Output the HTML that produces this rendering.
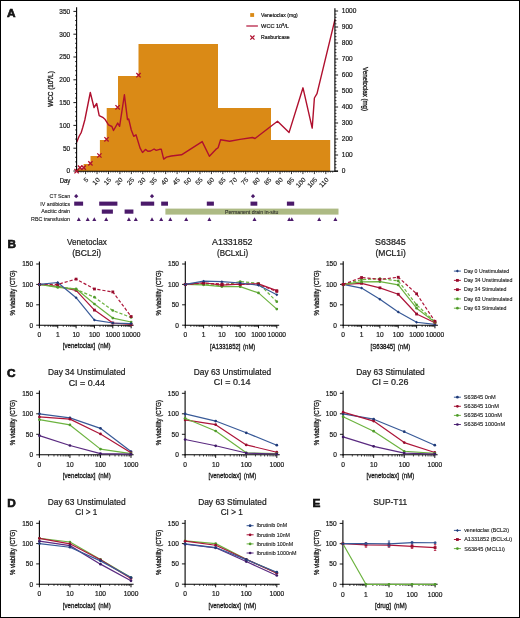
<!DOCTYPE html>
<html><head><meta charset="utf-8"><style>
html,body{margin:0;padding:0;background:#fff;}
body{width:520px;height:618px;overflow:hidden;}
svg{display:block;will-change:transform;}
text{font-family:"Liberation Sans",sans-serif;fill:#1a1a1a;stroke:#1a1a1a;stroke-width:0.22px;}
text[font-weight=bold]{stroke-width:0.6px;stroke:#000;}
.rl{stroke-width:0.16px;}
.ti{stroke-width:0.32px;}
.lg{stroke-width:0.12px;}
.pd{stroke-width:0.1px;fill:#2e2e2a;stroke:#2e2e2a;}
</style></head><body>
<svg width="520" height="618" viewBox="0 0 520 618">
<rect x="0" y="0" width="520" height="618" fill="#fff"/>
<text transform="translate(7 17.4)" font-size="11.8" font-weight="bold" fill="#000">A</text>
<path d="M76.6,171.3 L76.6,168.8 L83.6,168.8 L83.6,164 L90.5,164 L90.5,156 L99.9,156 L99.9,140 L106.7,140 L106.7,108 L118,108 L118,76 L138.5,76 L138.5,44 L218,44 L218,108 L271,108 L271,140 L330.2,140 L330.2,171.3 Z" fill="#da8a16" stroke="none" stroke-width="1"/>
<polyline points="76.7,142.3 79,136.5 81.3,132.3 82.8,127.3 84.8,120 90.3,92.5 94,107.5 96.7,103.5 99.2,115.6 102.7,117.3 105.2,119.6 108.5,124.8 111.9,126.5 113.5,130.5 117.7,123.1 119.6,126.3 124.4,94.8 127.5,119.6 128.7,119 131.3,130 133.7,136.3 136,134.8 140,147.9 142.5,152.5 145.5,149.4 147.8,151.3 150.6,151 154.1,149 156.2,150.4 159.6,149.3 161.3,149.3 163.7,159.1 166.5,157.1 171.2,156 181.5,154.8 202.2,141.6 209.4,156.3 215.8,149.4 218.1,147.7 220.6,139.8 229.6,141.3 240,139.4 252.5,137.5 255,138.5 277.5,121.25 289.1,132.4 303,87.8 312.2,128.1 314.4,98 317,93.6 335,19.4" fill="none" stroke="#b0102e" stroke-width="1.4" stroke-linejoin="round"/>
<line x1="76.6" y1="7.2" x2="76.6" y2="171.8" stroke="#000" stroke-width="1.1"/>
<line x1="76.1" y1="171.3" x2="338" y2="171.3" stroke="#000" stroke-width="1.1"/>
<line x1="334.9" y1="8.2" x2="334.9" y2="171.8" stroke="#000" stroke-width="1.1"/>
<line x1="73.4" y1="171" x2="76.6" y2="171" stroke="#000" stroke-width="0.9"/>
<text transform="translate(70.2 173.45) scale(0.950 1)" font-size="6.9" text-anchor="end">0</text>
<line x1="75" y1="166.44" x2="76.6" y2="166.44" stroke="#000" stroke-width="0.7"/>
<line x1="75" y1="161.88" x2="76.6" y2="161.88" stroke="#000" stroke-width="0.7"/>
<line x1="75" y1="157.32" x2="76.6" y2="157.32" stroke="#000" stroke-width="0.7"/>
<line x1="75" y1="152.76" x2="76.6" y2="152.76" stroke="#000" stroke-width="0.7"/>
<line x1="73.4" y1="148.2" x2="76.6" y2="148.2" stroke="#000" stroke-width="0.9"/>
<text transform="translate(70.2 150.65) scale(0.950 1)" font-size="6.9" text-anchor="end">50</text>
<line x1="75" y1="143.64" x2="76.6" y2="143.64" stroke="#000" stroke-width="0.7"/>
<line x1="75" y1="139.08" x2="76.6" y2="139.08" stroke="#000" stroke-width="0.7"/>
<line x1="75" y1="134.52" x2="76.6" y2="134.52" stroke="#000" stroke-width="0.7"/>
<line x1="75" y1="129.96" x2="76.6" y2="129.96" stroke="#000" stroke-width="0.7"/>
<line x1="73.4" y1="125.4" x2="76.6" y2="125.4" stroke="#000" stroke-width="0.9"/>
<text transform="translate(70.2 127.85) scale(0.950 1)" font-size="6.9" text-anchor="end">100</text>
<line x1="75" y1="120.84" x2="76.6" y2="120.84" stroke="#000" stroke-width="0.7"/>
<line x1="75" y1="116.28" x2="76.6" y2="116.28" stroke="#000" stroke-width="0.7"/>
<line x1="75" y1="111.72" x2="76.6" y2="111.72" stroke="#000" stroke-width="0.7"/>
<line x1="75" y1="107.16" x2="76.6" y2="107.16" stroke="#000" stroke-width="0.7"/>
<line x1="73.4" y1="102.6" x2="76.6" y2="102.6" stroke="#000" stroke-width="0.9"/>
<text transform="translate(70.2 105.05) scale(0.950 1)" font-size="6.9" text-anchor="end">150</text>
<line x1="75" y1="98.04" x2="76.6" y2="98.04" stroke="#000" stroke-width="0.7"/>
<line x1="75" y1="93.48" x2="76.6" y2="93.48" stroke="#000" stroke-width="0.7"/>
<line x1="75" y1="88.92" x2="76.6" y2="88.92" stroke="#000" stroke-width="0.7"/>
<line x1="75" y1="84.36" x2="76.6" y2="84.36" stroke="#000" stroke-width="0.7"/>
<line x1="73.4" y1="79.8" x2="76.6" y2="79.8" stroke="#000" stroke-width="0.9"/>
<text transform="translate(70.2 82.25) scale(0.950 1)" font-size="6.9" text-anchor="end">200</text>
<line x1="75" y1="75.24" x2="76.6" y2="75.24" stroke="#000" stroke-width="0.7"/>
<line x1="75" y1="70.68" x2="76.6" y2="70.68" stroke="#000" stroke-width="0.7"/>
<line x1="75" y1="66.12" x2="76.6" y2="66.12" stroke="#000" stroke-width="0.7"/>
<line x1="75" y1="61.56" x2="76.6" y2="61.56" stroke="#000" stroke-width="0.7"/>
<line x1="73.4" y1="57" x2="76.6" y2="57" stroke="#000" stroke-width="0.9"/>
<text transform="translate(70.2 59.45) scale(0.950 1)" font-size="6.9" text-anchor="end">250</text>
<line x1="75" y1="52.44" x2="76.6" y2="52.44" stroke="#000" stroke-width="0.7"/>
<line x1="75" y1="47.88" x2="76.6" y2="47.88" stroke="#000" stroke-width="0.7"/>
<line x1="75" y1="43.32" x2="76.6" y2="43.32" stroke="#000" stroke-width="0.7"/>
<line x1="75" y1="38.76" x2="76.6" y2="38.76" stroke="#000" stroke-width="0.7"/>
<line x1="73.4" y1="34.2" x2="76.6" y2="34.2" stroke="#000" stroke-width="0.9"/>
<text transform="translate(70.2 36.65) scale(0.950 1)" font-size="6.9" text-anchor="end">300</text>
<line x1="75" y1="29.64" x2="76.6" y2="29.64" stroke="#000" stroke-width="0.7"/>
<line x1="75" y1="25.08" x2="76.6" y2="25.08" stroke="#000" stroke-width="0.7"/>
<line x1="75" y1="20.52" x2="76.6" y2="20.52" stroke="#000" stroke-width="0.7"/>
<line x1="75" y1="15.96" x2="76.6" y2="15.96" stroke="#000" stroke-width="0.7"/>
<line x1="73.4" y1="11.4" x2="76.6" y2="11.4" stroke="#000" stroke-width="0.9"/>
<text transform="translate(70.2 13.85) scale(0.950 1)" font-size="6.9" text-anchor="end">350</text>
<line x1="334.9" y1="171" x2="338.1" y2="171" stroke="#000" stroke-width="0.9"/>
<text transform="translate(341.8 173.45) scale(0.950 1)" font-size="6.9">0</text>
<line x1="334.9" y1="167.8" x2="336.5" y2="167.8" stroke="#000" stroke-width="0.7"/>
<line x1="334.9" y1="164.6" x2="336.5" y2="164.6" stroke="#000" stroke-width="0.7"/>
<line x1="334.9" y1="161.4" x2="336.5" y2="161.4" stroke="#000" stroke-width="0.7"/>
<line x1="334.9" y1="158.2" x2="336.5" y2="158.2" stroke="#000" stroke-width="0.7"/>
<line x1="334.9" y1="155" x2="338.1" y2="155" stroke="#000" stroke-width="0.9"/>
<text transform="translate(341.8 157.45) scale(0.950 1)" font-size="6.9">100</text>
<line x1="334.9" y1="151.8" x2="336.5" y2="151.8" stroke="#000" stroke-width="0.7"/>
<line x1="334.9" y1="148.6" x2="336.5" y2="148.6" stroke="#000" stroke-width="0.7"/>
<line x1="334.9" y1="145.4" x2="336.5" y2="145.4" stroke="#000" stroke-width="0.7"/>
<line x1="334.9" y1="142.2" x2="336.5" y2="142.2" stroke="#000" stroke-width="0.7"/>
<line x1="334.9" y1="139" x2="338.1" y2="139" stroke="#000" stroke-width="0.9"/>
<text transform="translate(341.8 141.45) scale(0.950 1)" font-size="6.9">200</text>
<line x1="334.9" y1="135.8" x2="336.5" y2="135.8" stroke="#000" stroke-width="0.7"/>
<line x1="334.9" y1="132.6" x2="336.5" y2="132.6" stroke="#000" stroke-width="0.7"/>
<line x1="334.9" y1="129.4" x2="336.5" y2="129.4" stroke="#000" stroke-width="0.7"/>
<line x1="334.9" y1="126.2" x2="336.5" y2="126.2" stroke="#000" stroke-width="0.7"/>
<line x1="334.9" y1="123" x2="338.1" y2="123" stroke="#000" stroke-width="0.9"/>
<text transform="translate(341.8 125.45) scale(0.950 1)" font-size="6.9">300</text>
<line x1="334.9" y1="119.8" x2="336.5" y2="119.8" stroke="#000" stroke-width="0.7"/>
<line x1="334.9" y1="116.6" x2="336.5" y2="116.6" stroke="#000" stroke-width="0.7"/>
<line x1="334.9" y1="113.4" x2="336.5" y2="113.4" stroke="#000" stroke-width="0.7"/>
<line x1="334.9" y1="110.2" x2="336.5" y2="110.2" stroke="#000" stroke-width="0.7"/>
<line x1="334.9" y1="107" x2="338.1" y2="107" stroke="#000" stroke-width="0.9"/>
<text transform="translate(341.8 109.45) scale(0.950 1)" font-size="6.9">400</text>
<line x1="334.9" y1="103.8" x2="336.5" y2="103.8" stroke="#000" stroke-width="0.7"/>
<line x1="334.9" y1="100.6" x2="336.5" y2="100.6" stroke="#000" stroke-width="0.7"/>
<line x1="334.9" y1="97.4" x2="336.5" y2="97.4" stroke="#000" stroke-width="0.7"/>
<line x1="334.9" y1="94.2" x2="336.5" y2="94.2" stroke="#000" stroke-width="0.7"/>
<line x1="334.9" y1="91" x2="338.1" y2="91" stroke="#000" stroke-width="0.9"/>
<text transform="translate(341.8 93.45) scale(0.950 1)" font-size="6.9">500</text>
<line x1="334.9" y1="87.8" x2="336.5" y2="87.8" stroke="#000" stroke-width="0.7"/>
<line x1="334.9" y1="84.6" x2="336.5" y2="84.6" stroke="#000" stroke-width="0.7"/>
<line x1="334.9" y1="81.4" x2="336.5" y2="81.4" stroke="#000" stroke-width="0.7"/>
<line x1="334.9" y1="78.2" x2="336.5" y2="78.2" stroke="#000" stroke-width="0.7"/>
<line x1="334.9" y1="75" x2="338.1" y2="75" stroke="#000" stroke-width="0.9"/>
<text transform="translate(341.8 77.45) scale(0.950 1)" font-size="6.9">600</text>
<line x1="334.9" y1="71.8" x2="336.5" y2="71.8" stroke="#000" stroke-width="0.7"/>
<line x1="334.9" y1="68.6" x2="336.5" y2="68.6" stroke="#000" stroke-width="0.7"/>
<line x1="334.9" y1="65.4" x2="336.5" y2="65.4" stroke="#000" stroke-width="0.7"/>
<line x1="334.9" y1="62.2" x2="336.5" y2="62.2" stroke="#000" stroke-width="0.7"/>
<line x1="334.9" y1="59" x2="338.1" y2="59" stroke="#000" stroke-width="0.9"/>
<text transform="translate(341.8 61.45) scale(0.950 1)" font-size="6.9">700</text>
<line x1="334.9" y1="55.8" x2="336.5" y2="55.8" stroke="#000" stroke-width="0.7"/>
<line x1="334.9" y1="52.6" x2="336.5" y2="52.6" stroke="#000" stroke-width="0.7"/>
<line x1="334.9" y1="49.4" x2="336.5" y2="49.4" stroke="#000" stroke-width="0.7"/>
<line x1="334.9" y1="46.2" x2="336.5" y2="46.2" stroke="#000" stroke-width="0.7"/>
<line x1="334.9" y1="43" x2="338.1" y2="43" stroke="#000" stroke-width="0.9"/>
<text transform="translate(341.8 45.45) scale(0.950 1)" font-size="6.9">800</text>
<line x1="334.9" y1="39.8" x2="336.5" y2="39.8" stroke="#000" stroke-width="0.7"/>
<line x1="334.9" y1="36.6" x2="336.5" y2="36.6" stroke="#000" stroke-width="0.7"/>
<line x1="334.9" y1="33.4" x2="336.5" y2="33.4" stroke="#000" stroke-width="0.7"/>
<line x1="334.9" y1="30.2" x2="336.5" y2="30.2" stroke="#000" stroke-width="0.7"/>
<line x1="334.9" y1="27" x2="338.1" y2="27" stroke="#000" stroke-width="0.9"/>
<text transform="translate(341.8 29.45) scale(0.950 1)" font-size="6.9">900</text>
<line x1="334.9" y1="23.8" x2="336.5" y2="23.8" stroke="#000" stroke-width="0.7"/>
<line x1="334.9" y1="20.6" x2="336.5" y2="20.6" stroke="#000" stroke-width="0.7"/>
<line x1="334.9" y1="17.4" x2="336.5" y2="17.4" stroke="#000" stroke-width="0.7"/>
<line x1="334.9" y1="14.2" x2="336.5" y2="14.2" stroke="#000" stroke-width="0.7"/>
<line x1="334.9" y1="11" x2="338.1" y2="11" stroke="#000" stroke-width="0.9"/>
<text transform="translate(341.8 13.45) scale(0.950 1)" font-size="6.9">1000</text>
<line x1="78.74" y1="171.3" x2="78.74" y2="172.7" stroke="#000" stroke-width="0.6"/>
<line x1="81.02" y1="171.3" x2="81.02" y2="172.7" stroke="#000" stroke-width="0.6"/>
<line x1="83.31" y1="171.3" x2="83.31" y2="172.7" stroke="#000" stroke-width="0.6"/>
<line x1="85.6" y1="171.3" x2="85.6" y2="174.1" stroke="#000" stroke-width="0.8"/>
<text transform="translate(88.8 180.3) rotate(-45)" font-size="6.5" text-anchor="end" class="rl">5</text>
<line x1="87.89" y1="171.3" x2="87.89" y2="172.7" stroke="#000" stroke-width="0.6"/>
<line x1="90.17" y1="171.3" x2="90.17" y2="172.7" stroke="#000" stroke-width="0.6"/>
<line x1="92.46" y1="171.3" x2="92.46" y2="172.7" stroke="#000" stroke-width="0.6"/>
<line x1="94.75" y1="171.3" x2="94.75" y2="172.7" stroke="#000" stroke-width="0.6"/>
<line x1="97.04" y1="171.3" x2="97.04" y2="174.1" stroke="#000" stroke-width="0.8"/>
<text transform="translate(100.24 180.3) rotate(-45)" font-size="6.5" text-anchor="end" class="rl">10</text>
<line x1="99.32" y1="171.3" x2="99.32" y2="172.7" stroke="#000" stroke-width="0.6"/>
<line x1="101.61" y1="171.3" x2="101.61" y2="172.7" stroke="#000" stroke-width="0.6"/>
<line x1="103.9" y1="171.3" x2="103.9" y2="172.7" stroke="#000" stroke-width="0.6"/>
<line x1="106.19" y1="171.3" x2="106.19" y2="172.7" stroke="#000" stroke-width="0.6"/>
<line x1="108.47" y1="171.3" x2="108.47" y2="174.1" stroke="#000" stroke-width="0.8"/>
<text transform="translate(111.67 180.3) rotate(-45)" font-size="6.5" text-anchor="end" class="rl">15</text>
<line x1="110.76" y1="171.3" x2="110.76" y2="172.7" stroke="#000" stroke-width="0.6"/>
<line x1="113.05" y1="171.3" x2="113.05" y2="172.7" stroke="#000" stroke-width="0.6"/>
<line x1="115.34" y1="171.3" x2="115.34" y2="172.7" stroke="#000" stroke-width="0.6"/>
<line x1="117.62" y1="171.3" x2="117.62" y2="172.7" stroke="#000" stroke-width="0.6"/>
<line x1="119.91" y1="171.3" x2="119.91" y2="174.1" stroke="#000" stroke-width="0.8"/>
<text transform="translate(123.11 180.3) rotate(-45)" font-size="6.5" text-anchor="end" class="rl">20</text>
<line x1="122.2" y1="171.3" x2="122.2" y2="172.7" stroke="#000" stroke-width="0.6"/>
<line x1="124.49" y1="171.3" x2="124.49" y2="172.7" stroke="#000" stroke-width="0.6"/>
<line x1="126.77" y1="171.3" x2="126.77" y2="172.7" stroke="#000" stroke-width="0.6"/>
<line x1="129.06" y1="171.3" x2="129.06" y2="172.7" stroke="#000" stroke-width="0.6"/>
<line x1="131.35" y1="171.3" x2="131.35" y2="174.1" stroke="#000" stroke-width="0.8"/>
<text transform="translate(134.55 180.3) rotate(-45)" font-size="6.5" text-anchor="end" class="rl">25</text>
<line x1="133.64" y1="171.3" x2="133.64" y2="172.7" stroke="#000" stroke-width="0.6"/>
<line x1="135.93" y1="171.3" x2="135.93" y2="172.7" stroke="#000" stroke-width="0.6"/>
<line x1="138.21" y1="171.3" x2="138.21" y2="172.7" stroke="#000" stroke-width="0.6"/>
<line x1="140.5" y1="171.3" x2="140.5" y2="172.7" stroke="#000" stroke-width="0.6"/>
<line x1="142.79" y1="171.3" x2="142.79" y2="174.1" stroke="#000" stroke-width="0.8"/>
<text transform="translate(145.99 180.3) rotate(-45)" font-size="6.5" text-anchor="end" class="rl">30</text>
<line x1="145.08" y1="171.3" x2="145.08" y2="172.7" stroke="#000" stroke-width="0.6"/>
<line x1="147.36" y1="171.3" x2="147.36" y2="172.7" stroke="#000" stroke-width="0.6"/>
<line x1="149.65" y1="171.3" x2="149.65" y2="172.7" stroke="#000" stroke-width="0.6"/>
<line x1="151.94" y1="171.3" x2="151.94" y2="172.7" stroke="#000" stroke-width="0.6"/>
<line x1="154.23" y1="171.3" x2="154.23" y2="174.1" stroke="#000" stroke-width="0.8"/>
<text transform="translate(157.43 180.3) rotate(-45)" font-size="6.5" text-anchor="end" class="rl">35</text>
<line x1="156.51" y1="171.3" x2="156.51" y2="172.7" stroke="#000" stroke-width="0.6"/>
<line x1="158.8" y1="171.3" x2="158.8" y2="172.7" stroke="#000" stroke-width="0.6"/>
<line x1="161.09" y1="171.3" x2="161.09" y2="172.7" stroke="#000" stroke-width="0.6"/>
<line x1="163.38" y1="171.3" x2="163.38" y2="172.7" stroke="#000" stroke-width="0.6"/>
<line x1="165.66" y1="171.3" x2="165.66" y2="174.1" stroke="#000" stroke-width="0.8"/>
<text transform="translate(168.86 180.3) rotate(-45)" font-size="6.5" text-anchor="end" class="rl">40</text>
<line x1="167.95" y1="171.3" x2="167.95" y2="172.7" stroke="#000" stroke-width="0.6"/>
<line x1="170.24" y1="171.3" x2="170.24" y2="172.7" stroke="#000" stroke-width="0.6"/>
<line x1="172.53" y1="171.3" x2="172.53" y2="172.7" stroke="#000" stroke-width="0.6"/>
<line x1="174.81" y1="171.3" x2="174.81" y2="172.7" stroke="#000" stroke-width="0.6"/>
<line x1="177.1" y1="171.3" x2="177.1" y2="174.1" stroke="#000" stroke-width="0.8"/>
<text transform="translate(180.3 180.3) rotate(-45)" font-size="6.5" text-anchor="end" class="rl">45</text>
<line x1="179.39" y1="171.3" x2="179.39" y2="172.7" stroke="#000" stroke-width="0.6"/>
<line x1="181.68" y1="171.3" x2="181.68" y2="172.7" stroke="#000" stroke-width="0.6"/>
<line x1="183.96" y1="171.3" x2="183.96" y2="172.7" stroke="#000" stroke-width="0.6"/>
<line x1="186.25" y1="171.3" x2="186.25" y2="172.7" stroke="#000" stroke-width="0.6"/>
<line x1="188.54" y1="171.3" x2="188.54" y2="174.1" stroke="#000" stroke-width="0.8"/>
<text transform="translate(191.74 180.3) rotate(-45)" font-size="6.5" text-anchor="end" class="rl">50</text>
<line x1="190.83" y1="171.3" x2="190.83" y2="172.7" stroke="#000" stroke-width="0.6"/>
<line x1="193.12" y1="171.3" x2="193.12" y2="172.7" stroke="#000" stroke-width="0.6"/>
<line x1="195.4" y1="171.3" x2="195.4" y2="172.7" stroke="#000" stroke-width="0.6"/>
<line x1="197.69" y1="171.3" x2="197.69" y2="172.7" stroke="#000" stroke-width="0.6"/>
<line x1="199.98" y1="171.3" x2="199.98" y2="174.1" stroke="#000" stroke-width="0.8"/>
<text transform="translate(203.18 180.3) rotate(-45)" font-size="6.5" text-anchor="end" class="rl">55</text>
<line x1="202.27" y1="171.3" x2="202.27" y2="172.7" stroke="#000" stroke-width="0.6"/>
<line x1="204.55" y1="171.3" x2="204.55" y2="172.7" stroke="#000" stroke-width="0.6"/>
<line x1="206.84" y1="171.3" x2="206.84" y2="172.7" stroke="#000" stroke-width="0.6"/>
<line x1="209.13" y1="171.3" x2="209.13" y2="172.7" stroke="#000" stroke-width="0.6"/>
<line x1="211.42" y1="171.3" x2="211.42" y2="174.1" stroke="#000" stroke-width="0.8"/>
<text transform="translate(214.62 180.3) rotate(-45)" font-size="6.5" text-anchor="end" class="rl">60</text>
<line x1="213.7" y1="171.3" x2="213.7" y2="172.7" stroke="#000" stroke-width="0.6"/>
<line x1="215.99" y1="171.3" x2="215.99" y2="172.7" stroke="#000" stroke-width="0.6"/>
<line x1="218.28" y1="171.3" x2="218.28" y2="172.7" stroke="#000" stroke-width="0.6"/>
<line x1="220.57" y1="171.3" x2="220.57" y2="172.7" stroke="#000" stroke-width="0.6"/>
<line x1="222.85" y1="171.3" x2="222.85" y2="174.1" stroke="#000" stroke-width="0.8"/>
<text transform="translate(226.05 180.3) rotate(-45)" font-size="6.5" text-anchor="end" class="rl">65</text>
<line x1="225.14" y1="171.3" x2="225.14" y2="172.7" stroke="#000" stroke-width="0.6"/>
<line x1="227.43" y1="171.3" x2="227.43" y2="172.7" stroke="#000" stroke-width="0.6"/>
<line x1="229.72" y1="171.3" x2="229.72" y2="172.7" stroke="#000" stroke-width="0.6"/>
<line x1="232" y1="171.3" x2="232" y2="172.7" stroke="#000" stroke-width="0.6"/>
<line x1="234.29" y1="171.3" x2="234.29" y2="174.1" stroke="#000" stroke-width="0.8"/>
<text transform="translate(237.49 180.3) rotate(-45)" font-size="6.5" text-anchor="end" class="rl">70</text>
<line x1="236.58" y1="171.3" x2="236.58" y2="172.7" stroke="#000" stroke-width="0.6"/>
<line x1="238.87" y1="171.3" x2="238.87" y2="172.7" stroke="#000" stroke-width="0.6"/>
<line x1="241.15" y1="171.3" x2="241.15" y2="172.7" stroke="#000" stroke-width="0.6"/>
<line x1="243.44" y1="171.3" x2="243.44" y2="172.7" stroke="#000" stroke-width="0.6"/>
<line x1="245.73" y1="171.3" x2="245.73" y2="174.1" stroke="#000" stroke-width="0.8"/>
<text transform="translate(248.93 180.3) rotate(-45)" font-size="6.5" text-anchor="end" class="rl">75</text>
<line x1="248.02" y1="171.3" x2="248.02" y2="172.7" stroke="#000" stroke-width="0.6"/>
<line x1="250.31" y1="171.3" x2="250.31" y2="172.7" stroke="#000" stroke-width="0.6"/>
<line x1="252.59" y1="171.3" x2="252.59" y2="172.7" stroke="#000" stroke-width="0.6"/>
<line x1="254.88" y1="171.3" x2="254.88" y2="172.7" stroke="#000" stroke-width="0.6"/>
<line x1="257.17" y1="171.3" x2="257.17" y2="174.1" stroke="#000" stroke-width="0.8"/>
<text transform="translate(260.37 180.3) rotate(-45)" font-size="6.5" text-anchor="end" class="rl">80</text>
<line x1="259.46" y1="171.3" x2="259.46" y2="172.7" stroke="#000" stroke-width="0.6"/>
<line x1="261.74" y1="171.3" x2="261.74" y2="172.7" stroke="#000" stroke-width="0.6"/>
<line x1="264.03" y1="171.3" x2="264.03" y2="172.7" stroke="#000" stroke-width="0.6"/>
<line x1="266.32" y1="171.3" x2="266.32" y2="172.7" stroke="#000" stroke-width="0.6"/>
<line x1="268.61" y1="171.3" x2="268.61" y2="174.1" stroke="#000" stroke-width="0.8"/>
<text transform="translate(271.81 180.3) rotate(-45)" font-size="6.5" text-anchor="end" class="rl">85</text>
<line x1="270.89" y1="171.3" x2="270.89" y2="172.7" stroke="#000" stroke-width="0.6"/>
<line x1="273.18" y1="171.3" x2="273.18" y2="172.7" stroke="#000" stroke-width="0.6"/>
<line x1="275.47" y1="171.3" x2="275.47" y2="172.7" stroke="#000" stroke-width="0.6"/>
<line x1="277.76" y1="171.3" x2="277.76" y2="172.7" stroke="#000" stroke-width="0.6"/>
<line x1="280.04" y1="171.3" x2="280.04" y2="174.1" stroke="#000" stroke-width="0.8"/>
<text transform="translate(283.24 180.3) rotate(-45)" font-size="6.5" text-anchor="end" class="rl">90</text>
<line x1="282.33" y1="171.3" x2="282.33" y2="172.7" stroke="#000" stroke-width="0.6"/>
<line x1="284.62" y1="171.3" x2="284.62" y2="172.7" stroke="#000" stroke-width="0.6"/>
<line x1="286.91" y1="171.3" x2="286.91" y2="172.7" stroke="#000" stroke-width="0.6"/>
<line x1="289.19" y1="171.3" x2="289.19" y2="172.7" stroke="#000" stroke-width="0.6"/>
<line x1="291.48" y1="171.3" x2="291.48" y2="174.1" stroke="#000" stroke-width="0.8"/>
<text transform="translate(294.68 180.3) rotate(-45)" font-size="6.5" text-anchor="end" class="rl">95</text>
<line x1="293.77" y1="171.3" x2="293.77" y2="172.7" stroke="#000" stroke-width="0.6"/>
<line x1="296.06" y1="171.3" x2="296.06" y2="172.7" stroke="#000" stroke-width="0.6"/>
<line x1="298.34" y1="171.3" x2="298.34" y2="172.7" stroke="#000" stroke-width="0.6"/>
<line x1="300.63" y1="171.3" x2="300.63" y2="172.7" stroke="#000" stroke-width="0.6"/>
<line x1="302.92" y1="171.3" x2="302.92" y2="174.1" stroke="#000" stroke-width="0.8"/>
<text transform="translate(306.12 180.3) rotate(-45)" font-size="6.5" text-anchor="end" class="rl">100</text>
<line x1="305.21" y1="171.3" x2="305.21" y2="172.7" stroke="#000" stroke-width="0.6"/>
<line x1="307.5" y1="171.3" x2="307.5" y2="172.7" stroke="#000" stroke-width="0.6"/>
<line x1="309.78" y1="171.3" x2="309.78" y2="172.7" stroke="#000" stroke-width="0.6"/>
<line x1="312.07" y1="171.3" x2="312.07" y2="172.7" stroke="#000" stroke-width="0.6"/>
<line x1="314.36" y1="171.3" x2="314.36" y2="174.1" stroke="#000" stroke-width="0.8"/>
<text transform="translate(317.56 180.3) rotate(-45)" font-size="6.5" text-anchor="end" class="rl">105</text>
<line x1="316.65" y1="171.3" x2="316.65" y2="172.7" stroke="#000" stroke-width="0.6"/>
<line x1="318.93" y1="171.3" x2="318.93" y2="172.7" stroke="#000" stroke-width="0.6"/>
<line x1="321.22" y1="171.3" x2="321.22" y2="172.7" stroke="#000" stroke-width="0.6"/>
<line x1="323.51" y1="171.3" x2="323.51" y2="172.7" stroke="#000" stroke-width="0.6"/>
<line x1="325.8" y1="171.3" x2="325.8" y2="174.1" stroke="#000" stroke-width="0.8"/>
<text transform="translate(329 180.3) rotate(-45)" font-size="6.5" text-anchor="end" class="rl">110</text>
<line x1="328.08" y1="171.3" x2="328.08" y2="172.7" stroke="#000" stroke-width="0.6"/>
<line x1="330.37" y1="171.3" x2="330.37" y2="172.7" stroke="#000" stroke-width="0.6"/>
<line x1="332.66" y1="171.3" x2="332.66" y2="172.7" stroke="#000" stroke-width="0.6"/>
<path d="M74.45,169.05L78.75,173.35M74.45,173.35L78.75,169.05" fill="none" stroke="#b0102e" stroke-width="1.3"/>
<path d="M77.85,165.45L82.15,169.75M77.85,169.75L82.15,165.45" fill="none" stroke="#b0102e" stroke-width="1.3"/>
<path d="M81.55,165.45L85.85,169.75M81.55,169.75L85.85,165.45" fill="none" stroke="#b0102e" stroke-width="1.3"/>
<path d="M88.25,161.25L92.55,165.55M88.25,165.55L92.55,161.25" fill="none" stroke="#b0102e" stroke-width="1.3"/>
<path d="M97.25,153.35L101.55,157.65M97.25,157.65L101.55,153.35" fill="none" stroke="#b0102e" stroke-width="1.3"/>
<path d="M104.35,137.15L108.65,141.45M104.35,141.45L108.65,137.15" fill="none" stroke="#b0102e" stroke-width="1.3"/>
<path d="M115.45,105.15L119.75,109.45M115.45,109.45L119.75,105.15" fill="none" stroke="#b0102e" stroke-width="1.3"/>
<path d="M136.35,73.05L140.65,77.35M136.35,77.35L140.65,73.05" fill="none" stroke="#b0102e" stroke-width="1.3"/>
<text transform="translate(70.4 182.8) scale(0.934 1)" font-size="6.5" text-anchor="end">Day</text>
<text transform="translate(52.6 89) rotate(-90) scale(0.885 1)" font-size="7.2" text-anchor="middle" class="ti">WCC (10<tspan font-size="4" dy="-2.2">9</tspan><tspan dy="2.2">/L)</tspan></text>
<text transform="translate(362.5 89) rotate(90) scale(0.870 1)" font-size="7" text-anchor="middle" class="ti">Venetoclax (mg)</text>
<rect x="250.2" y="13.1" width="3.9" height="3.8" fill="#da8a16"/>
<text transform="translate(261.1 16.8) scale(0.905 1)" font-size="5.6">Venetoclax (mg)</text>
<line x1="246.3" y1="26" x2="257.9" y2="26" stroke="#c0405f" stroke-width="1.5"/>
<text transform="translate(261.1 27.8)" font-size="5.6">WCC 10<tspan font-size="3.4" dy="-2">9</tspan><tspan dy="2">/L</tspan></text>
<path d="M250.3,35.5L254.5,39.7M250.3,39.7L254.5,35.5" fill="none" stroke="#b0102e" stroke-width="1.2"/>
<text transform="translate(261.1 39.3) scale(0.922 1)" font-size="5.6">Rasburicase</text>
<text transform="translate(70.1 198) scale(0.917 1)" font-size="5.8" text-anchor="end" class="lg">CT Scan</text>
<text transform="translate(70.1 205.5) scale(0.909 1)" font-size="5.8" text-anchor="end" class="lg">IV antibiotics</text>
<text transform="translate(70.1 213.2) scale(0.928 1)" font-size="5.8" text-anchor="end" class="lg">Ascitic drain</text>
<text transform="translate(70.1 220.6) scale(0.928 1)" font-size="5.8" text-anchor="end" class="lg">RBC transfusion</text>
<path d="M76.2,194.1L78.3,196.2L76.2,198.3L74.1,196.2Z" fill="#4b1a6a" stroke="none" stroke-width="1"/>
<path d="M152,194.1L154.1,196.2L152,198.3L149.9,196.2Z" fill="#4b1a6a" stroke="none" stroke-width="1"/>
<path d="M253,194.1L255.1,196.2L253,198.3L250.9,196.2Z" fill="#4b1a6a" stroke="none" stroke-width="1"/>
<rect x="74.2" y="201.6" width="8.9" height="4.1" fill="#4b1a6a"/>
<rect x="99.2" y="201.6" width="18.2" height="4.1" fill="#4b1a6a"/>
<rect x="140.8" y="201.6" width="13.4" height="4.1" fill="#4b1a6a"/>
<rect x="161.2" y="201.6" width="6.8" height="4.1" fill="#4b1a6a"/>
<rect x="206.8" y="201.6" width="7.1" height="4.1" fill="#4b1a6a"/>
<rect x="250.5" y="201.6" width="6.8" height="4.1" fill="#4b1a6a"/>
<rect x="286.9" y="201.6" width="7.3" height="4.1" fill="#4b1a6a"/>
<rect x="101.8" y="209.5" width="11.1" height="4.2" fill="#4b1a6a"/>
<rect x="124.6" y="209.5" width="8.8" height="4.2" fill="#4b1a6a"/>
<rect x="165.4" y="208.6" width="173.1" height="6" fill="#adba84"/>
<text transform="translate(225 213.8) scale(0.924 1)" font-size="5.6" class="pd">Permanent drain in-situ</text>
<path d="M78.8,217.3L80.8,221.1L76.8,221.1Z" fill="#4b1a6a" stroke="none" stroke-width="1"/>
<path d="M87.7,217.3L89.7,221.1L85.7,221.1Z" fill="#4b1a6a" stroke="none" stroke-width="1"/>
<path d="M94.3,217.3L96.3,221.1L92.3,221.1Z" fill="#4b1a6a" stroke="none" stroke-width="1"/>
<path d="M106.2,217.3L108.2,221.1L104.2,221.1Z" fill="#4b1a6a" stroke="none" stroke-width="1"/>
<path d="M128.9,217.3L130.9,221.1L126.9,221.1Z" fill="#4b1a6a" stroke="none" stroke-width="1"/>
<path d="M135.8,217.3L137.8,221.1L133.8,221.1Z" fill="#4b1a6a" stroke="none" stroke-width="1"/>
<path d="M152,217.3L154,221.1L150,221.1Z" fill="#4b1a6a" stroke="none" stroke-width="1"/>
<path d="M161.2,217.3L163.2,221.1L159.2,221.1Z" fill="#4b1a6a" stroke="none" stroke-width="1"/>
<path d="M170.3,217.3L172.3,221.1L168.3,221.1Z" fill="#4b1a6a" stroke="none" stroke-width="1"/>
<path d="M186.2,217.3L188.2,221.1L184.2,221.1Z" fill="#4b1a6a" stroke="none" stroke-width="1"/>
<path d="M209.4,217.3L211.4,221.1L207.4,221.1Z" fill="#4b1a6a" stroke="none" stroke-width="1"/>
<path d="M254.5,217.3L256.5,221.1L252.5,221.1Z" fill="#4b1a6a" stroke="none" stroke-width="1"/>
<path d="M289.2,217.3L291.2,221.1L287.2,221.1Z" fill="#4b1a6a" stroke="none" stroke-width="1"/>
<path d="M291.8,217.3L293.8,221.1L289.8,221.1Z" fill="#4b1a6a" stroke="none" stroke-width="1"/>
<path d="M319.2,217.3L321.2,221.1L317.2,221.1Z" fill="#4b1a6a" stroke="none" stroke-width="1"/>
<path d="M335.4,217.3L337.4,221.1L333.4,221.1Z" fill="#4b1a6a" stroke="none" stroke-width="1"/>
<text transform="translate(7.4 247.8)" font-size="11.8" font-weight="bold" fill="#000">B</text>
<line x1="39.4" y1="261.5" x2="39.4" y2="325.8" stroke="#000" stroke-width="1.1"/>
<line x1="38.9" y1="325.2" x2="133.6" y2="325.2" stroke="#000" stroke-width="1.1"/>
<line x1="36.2" y1="325.2" x2="39.4" y2="325.2" stroke="#000" stroke-width="0.9"/>
<text transform="translate(33.1 327.65) scale(0.950 1)" font-size="6.9" text-anchor="end">0</text>
<line x1="36.2" y1="304.8" x2="39.4" y2="304.8" stroke="#000" stroke-width="0.9"/>
<text transform="translate(33.1 307.25) scale(0.950 1)" font-size="6.9" text-anchor="end">50</text>
<line x1="36.2" y1="284.4" x2="39.4" y2="284.4" stroke="#000" stroke-width="0.9"/>
<text transform="translate(33.1 286.85) scale(0.950 1)" font-size="6.9" text-anchor="end">100</text>
<line x1="36.2" y1="264" x2="39.4" y2="264" stroke="#000" stroke-width="0.9"/>
<text transform="translate(33.1 266.45) scale(0.950 1)" font-size="6.9" text-anchor="end">150</text>
<line x1="39.4" y1="325.2" x2="39.4" y2="328.3" stroke="#000" stroke-width="0.95"/>
<text transform="translate(39.4 337.4) scale(0.960 1)" font-size="6.9" text-anchor="middle">0</text>
<line x1="44.92" y1="325.2" x2="44.92" y2="326.9" stroke="#000" stroke-width="0.7"/>
<line x1="48.16" y1="325.2" x2="48.16" y2="326.9" stroke="#000" stroke-width="0.7"/>
<line x1="50.45" y1="325.2" x2="50.45" y2="326.9" stroke="#000" stroke-width="0.7"/>
<line x1="52.23" y1="325.2" x2="52.23" y2="326.9" stroke="#000" stroke-width="0.7"/>
<line x1="53.68" y1="325.2" x2="53.68" y2="326.9" stroke="#000" stroke-width="0.7"/>
<line x1="54.91" y1="325.2" x2="54.91" y2="326.9" stroke="#000" stroke-width="0.7"/>
<line x1="55.97" y1="325.2" x2="55.97" y2="326.9" stroke="#000" stroke-width="0.7"/>
<line x1="56.91" y1="325.2" x2="56.91" y2="326.9" stroke="#000" stroke-width="0.7"/>
<line x1="57.75" y1="325.2" x2="57.75" y2="328.3" stroke="#000" stroke-width="0.95"/>
<text transform="translate(57.75 337.4) scale(0.960 1)" font-size="6.9" text-anchor="middle">1</text>
<line x1="63.27" y1="325.2" x2="63.27" y2="326.9" stroke="#000" stroke-width="0.7"/>
<line x1="66.51" y1="325.2" x2="66.51" y2="326.9" stroke="#000" stroke-width="0.7"/>
<line x1="68.8" y1="325.2" x2="68.8" y2="326.9" stroke="#000" stroke-width="0.7"/>
<line x1="70.58" y1="325.2" x2="70.58" y2="326.9" stroke="#000" stroke-width="0.7"/>
<line x1="72.03" y1="325.2" x2="72.03" y2="326.9" stroke="#000" stroke-width="0.7"/>
<line x1="73.26" y1="325.2" x2="73.26" y2="326.9" stroke="#000" stroke-width="0.7"/>
<line x1="74.32" y1="325.2" x2="74.32" y2="326.9" stroke="#000" stroke-width="0.7"/>
<line x1="75.26" y1="325.2" x2="75.26" y2="326.9" stroke="#000" stroke-width="0.7"/>
<line x1="76.1" y1="325.2" x2="76.1" y2="328.3" stroke="#000" stroke-width="0.95"/>
<text transform="translate(76.1 337.4) scale(0.960 1)" font-size="6.9" text-anchor="middle">10</text>
<line x1="81.62" y1="325.2" x2="81.62" y2="326.9" stroke="#000" stroke-width="0.7"/>
<line x1="84.86" y1="325.2" x2="84.86" y2="326.9" stroke="#000" stroke-width="0.7"/>
<line x1="87.15" y1="325.2" x2="87.15" y2="326.9" stroke="#000" stroke-width="0.7"/>
<line x1="88.93" y1="325.2" x2="88.93" y2="326.9" stroke="#000" stroke-width="0.7"/>
<line x1="90.38" y1="325.2" x2="90.38" y2="326.9" stroke="#000" stroke-width="0.7"/>
<line x1="91.61" y1="325.2" x2="91.61" y2="326.9" stroke="#000" stroke-width="0.7"/>
<line x1="92.67" y1="325.2" x2="92.67" y2="326.9" stroke="#000" stroke-width="0.7"/>
<line x1="93.61" y1="325.2" x2="93.61" y2="326.9" stroke="#000" stroke-width="0.7"/>
<line x1="94.45" y1="325.2" x2="94.45" y2="328.3" stroke="#000" stroke-width="0.95"/>
<text transform="translate(94.45 337.4) scale(0.960 1)" font-size="6.9" text-anchor="middle">100</text>
<line x1="99.97" y1="325.2" x2="99.97" y2="326.9" stroke="#000" stroke-width="0.7"/>
<line x1="103.21" y1="325.2" x2="103.21" y2="326.9" stroke="#000" stroke-width="0.7"/>
<line x1="105.5" y1="325.2" x2="105.5" y2="326.9" stroke="#000" stroke-width="0.7"/>
<line x1="107.28" y1="325.2" x2="107.28" y2="326.9" stroke="#000" stroke-width="0.7"/>
<line x1="108.73" y1="325.2" x2="108.73" y2="326.9" stroke="#000" stroke-width="0.7"/>
<line x1="109.96" y1="325.2" x2="109.96" y2="326.9" stroke="#000" stroke-width="0.7"/>
<line x1="111.02" y1="325.2" x2="111.02" y2="326.9" stroke="#000" stroke-width="0.7"/>
<line x1="111.96" y1="325.2" x2="111.96" y2="326.9" stroke="#000" stroke-width="0.7"/>
<line x1="112.8" y1="325.2" x2="112.8" y2="328.3" stroke="#000" stroke-width="0.95"/>
<text transform="translate(112.8 337.4) scale(0.960 1)" font-size="6.9" text-anchor="middle">1000</text>
<line x1="118.32" y1="325.2" x2="118.32" y2="326.9" stroke="#000" stroke-width="0.7"/>
<line x1="121.56" y1="325.2" x2="121.56" y2="326.9" stroke="#000" stroke-width="0.7"/>
<line x1="123.85" y1="325.2" x2="123.85" y2="326.9" stroke="#000" stroke-width="0.7"/>
<line x1="125.63" y1="325.2" x2="125.63" y2="326.9" stroke="#000" stroke-width="0.7"/>
<line x1="127.08" y1="325.2" x2="127.08" y2="326.9" stroke="#000" stroke-width="0.7"/>
<line x1="128.31" y1="325.2" x2="128.31" y2="326.9" stroke="#000" stroke-width="0.7"/>
<line x1="129.37" y1="325.2" x2="129.37" y2="326.9" stroke="#000" stroke-width="0.7"/>
<line x1="130.31" y1="325.2" x2="130.31" y2="326.9" stroke="#000" stroke-width="0.7"/>
<line x1="131.15" y1="325.2" x2="131.15" y2="328.3" stroke="#000" stroke-width="0.95"/>
<text transform="translate(131.15 337.4) scale(0.960 1)" font-size="6.9" text-anchor="middle">10000</text>
<polyline points="39.4,284.4 57.75,286.44 76.1,290.32 94.45,310.1 112.8,323 131.15,324.38" fill="none" stroke="#ad1539" stroke-width="1.2" stroke-linejoin="round"/>
<rect x="38" y="283" width="2.8" height="2.8" fill="#960b2c"/>
<rect x="56.35" y="285.04" width="2.8" height="2.8" fill="#960b2c"/>
<rect x="74.7" y="288.92" width="2.8" height="2.8" fill="#960b2c"/>
<rect x="93.05" y="308.7" width="2.8" height="2.8" fill="#960b2c"/>
<rect x="111.4" y="321.6" width="2.8" height="2.8" fill="#960b2c"/>
<rect x="129.75" y="322.98" width="2.8" height="2.8" fill="#960b2c"/>
<polyline points="39.4,284.4 57.75,287.42 76.1,288.81 94.45,303.98 112.8,318.1 131.15,322.02" fill="none" stroke="#6cb33f" stroke-width="1.2" stroke-linejoin="round"/>
<circle cx="39.4" cy="284.4" r="1.35" fill="#4f9a2c"/>
<circle cx="57.75" cy="287.42" r="1.35" fill="#4f9a2c"/>
<circle cx="76.1" cy="288.81" r="1.35" fill="#4f9a2c"/>
<circle cx="94.45" cy="303.98" r="1.35" fill="#4f9a2c"/>
<circle cx="112.8" cy="318.1" r="1.35" fill="#4f9a2c"/>
<circle cx="131.15" cy="322.02" r="1.35" fill="#4f9a2c"/>
<polyline points="39.4,284.4 57.75,286.64 76.1,289.42 94.45,297.21 112.8,310.51 131.15,317.45" fill="none" stroke="#6cb33f" stroke-width="1.2" stroke-dasharray="3.2,1.9" stroke-linejoin="round"/>
<circle cx="39.4" cy="284.4" r="1.35" fill="#4f9a2c"/>
<circle cx="57.75" cy="286.64" r="1.35" fill="#4f9a2c"/>
<circle cx="76.1" cy="289.42" r="1.35" fill="#4f9a2c"/>
<circle cx="94.45" cy="297.21" r="1.35" fill="#4f9a2c"/>
<circle cx="112.8" cy="310.51" r="1.35" fill="#4f9a2c"/>
<circle cx="131.15" cy="317.45" r="1.35" fill="#4f9a2c"/>
<polyline points="39.4,284.4 57.75,284.4 76.1,279.1 94.45,289.01 112.8,291.91 131.15,316.51" fill="none" stroke="#ad1539" stroke-width="1.2" stroke-dasharray="3.2,1.9" stroke-linejoin="round"/>
<rect x="38" y="283" width="2.8" height="2.8" fill="#960b2c"/>
<rect x="56.35" y="283" width="2.8" height="2.8" fill="#960b2c"/>
<rect x="74.7" y="277.7" width="2.8" height="2.8" fill="#960b2c"/>
<rect x="93.05" y="287.61" width="2.8" height="2.8" fill="#960b2c"/>
<rect x="111.4" y="290.51" width="2.8" height="2.8" fill="#960b2c"/>
<rect x="129.75" y="315.11" width="2.8" height="2.8" fill="#960b2c"/>
<polyline points="39.4,284.4 57.75,282.48 76.1,297.7 94.45,320.1 112.8,323 131.15,323.57" fill="none" stroke="#385a98" stroke-width="1.2" stroke-linejoin="round"/>
<path d="M39.4,282.9L40.9,284.4L39.4,285.9L37.9,284.4Z" fill="#1f3a78" stroke="none" stroke-width="1"/>
<path d="M57.75,280.98L59.25,282.48L57.75,283.98L56.25,282.48Z" fill="#1f3a78" stroke="none" stroke-width="1"/>
<path d="M76.1,296.2L77.6,297.7L76.1,299.2L74.6,297.7Z" fill="#1f3a78" stroke="none" stroke-width="1"/>
<path d="M94.45,318.6L95.95,320.1L94.45,321.6L92.95,320.1Z" fill="#1f3a78" stroke="none" stroke-width="1"/>
<path d="M112.8,321.5L114.3,323L112.8,324.5L111.3,323Z" fill="#1f3a78" stroke="none" stroke-width="1"/>
<path d="M131.15,322.07L132.65,323.57L131.15,325.07L129.65,323.57Z" fill="#1f3a78" stroke="none" stroke-width="1"/>
<text transform="translate(87 245.1) scale(0.908 1)" font-size="9" text-anchor="middle">Venetoclax</text>
<text transform="translate(86.7 255.8) scale(0.951 1)" font-size="9" text-anchor="middle">(BCL2i)</text>
<text transform="translate(86.7 348.4) scale(0.793 1)" font-size="7.7" text-anchor="middle" class="ti">[venetoclax]<tspan dx="1.4"> (nM)</tspan></text>
<text transform="translate(14.9 293) rotate(-90) scale(0.805 1)" font-size="7.5" text-anchor="middle" class="ti">% viability (CTG)</text>
<line x1="185.3" y1="261.3" x2="185.3" y2="325.8" stroke="#000" stroke-width="1.1"/>
<line x1="184.8" y1="325.2" x2="279.2" y2="325.2" stroke="#000" stroke-width="1.1"/>
<line x1="182.1" y1="325.2" x2="185.3" y2="325.2" stroke="#000" stroke-width="0.9"/>
<text transform="translate(179 327.65) scale(0.950 1)" font-size="6.9" text-anchor="end">0</text>
<line x1="182.1" y1="304.8" x2="185.3" y2="304.8" stroke="#000" stroke-width="0.9"/>
<text transform="translate(179 307.25) scale(0.950 1)" font-size="6.9" text-anchor="end">50</text>
<line x1="182.1" y1="284.4" x2="185.3" y2="284.4" stroke="#000" stroke-width="0.9"/>
<text transform="translate(179 286.85) scale(0.950 1)" font-size="6.9" text-anchor="end">100</text>
<line x1="182.1" y1="264" x2="185.3" y2="264" stroke="#000" stroke-width="0.9"/>
<text transform="translate(179 266.45) scale(0.950 1)" font-size="6.9" text-anchor="end">150</text>
<line x1="185.3" y1="325.2" x2="185.3" y2="328.3" stroke="#000" stroke-width="0.95"/>
<text transform="translate(185.3 337.4) scale(0.960 1)" font-size="6.9" text-anchor="middle">0</text>
<line x1="190.81" y1="325.2" x2="190.81" y2="326.9" stroke="#000" stroke-width="0.7"/>
<line x1="194.03" y1="325.2" x2="194.03" y2="326.9" stroke="#000" stroke-width="0.7"/>
<line x1="196.32" y1="325.2" x2="196.32" y2="326.9" stroke="#000" stroke-width="0.7"/>
<line x1="198.09" y1="325.2" x2="198.09" y2="326.9" stroke="#000" stroke-width="0.7"/>
<line x1="199.54" y1="325.2" x2="199.54" y2="326.9" stroke="#000" stroke-width="0.7"/>
<line x1="200.77" y1="325.2" x2="200.77" y2="326.9" stroke="#000" stroke-width="0.7"/>
<line x1="201.83" y1="325.2" x2="201.83" y2="326.9" stroke="#000" stroke-width="0.7"/>
<line x1="202.76" y1="325.2" x2="202.76" y2="326.9" stroke="#000" stroke-width="0.7"/>
<line x1="203.6" y1="325.2" x2="203.6" y2="328.3" stroke="#000" stroke-width="0.95"/>
<text transform="translate(203.6 337.4) scale(0.960 1)" font-size="6.9" text-anchor="middle">1</text>
<line x1="209.11" y1="325.2" x2="209.11" y2="326.9" stroke="#000" stroke-width="0.7"/>
<line x1="212.33" y1="325.2" x2="212.33" y2="326.9" stroke="#000" stroke-width="0.7"/>
<line x1="214.62" y1="325.2" x2="214.62" y2="326.9" stroke="#000" stroke-width="0.7"/>
<line x1="216.39" y1="325.2" x2="216.39" y2="326.9" stroke="#000" stroke-width="0.7"/>
<line x1="217.84" y1="325.2" x2="217.84" y2="326.9" stroke="#000" stroke-width="0.7"/>
<line x1="219.07" y1="325.2" x2="219.07" y2="326.9" stroke="#000" stroke-width="0.7"/>
<line x1="220.13" y1="325.2" x2="220.13" y2="326.9" stroke="#000" stroke-width="0.7"/>
<line x1="221.06" y1="325.2" x2="221.06" y2="326.9" stroke="#000" stroke-width="0.7"/>
<line x1="221.9" y1="325.2" x2="221.9" y2="328.3" stroke="#000" stroke-width="0.95"/>
<text transform="translate(221.9 337.4) scale(0.960 1)" font-size="6.9" text-anchor="middle">10</text>
<line x1="227.41" y1="325.2" x2="227.41" y2="326.9" stroke="#000" stroke-width="0.7"/>
<line x1="230.63" y1="325.2" x2="230.63" y2="326.9" stroke="#000" stroke-width="0.7"/>
<line x1="232.92" y1="325.2" x2="232.92" y2="326.9" stroke="#000" stroke-width="0.7"/>
<line x1="234.69" y1="325.2" x2="234.69" y2="326.9" stroke="#000" stroke-width="0.7"/>
<line x1="236.14" y1="325.2" x2="236.14" y2="326.9" stroke="#000" stroke-width="0.7"/>
<line x1="237.37" y1="325.2" x2="237.37" y2="326.9" stroke="#000" stroke-width="0.7"/>
<line x1="238.43" y1="325.2" x2="238.43" y2="326.9" stroke="#000" stroke-width="0.7"/>
<line x1="239.36" y1="325.2" x2="239.36" y2="326.9" stroke="#000" stroke-width="0.7"/>
<line x1="240.2" y1="325.2" x2="240.2" y2="328.3" stroke="#000" stroke-width="0.95"/>
<text transform="translate(240.2 337.4) scale(0.960 1)" font-size="6.9" text-anchor="middle">100</text>
<line x1="245.71" y1="325.2" x2="245.71" y2="326.9" stroke="#000" stroke-width="0.7"/>
<line x1="248.93" y1="325.2" x2="248.93" y2="326.9" stroke="#000" stroke-width="0.7"/>
<line x1="251.22" y1="325.2" x2="251.22" y2="326.9" stroke="#000" stroke-width="0.7"/>
<line x1="252.99" y1="325.2" x2="252.99" y2="326.9" stroke="#000" stroke-width="0.7"/>
<line x1="254.44" y1="325.2" x2="254.44" y2="326.9" stroke="#000" stroke-width="0.7"/>
<line x1="255.67" y1="325.2" x2="255.67" y2="326.9" stroke="#000" stroke-width="0.7"/>
<line x1="256.73" y1="325.2" x2="256.73" y2="326.9" stroke="#000" stroke-width="0.7"/>
<line x1="257.66" y1="325.2" x2="257.66" y2="326.9" stroke="#000" stroke-width="0.7"/>
<line x1="258.5" y1="325.2" x2="258.5" y2="328.3" stroke="#000" stroke-width="0.95"/>
<text transform="translate(258.5 337.4) scale(0.960 1)" font-size="6.9" text-anchor="middle">1000</text>
<line x1="264.01" y1="325.2" x2="264.01" y2="326.9" stroke="#000" stroke-width="0.7"/>
<line x1="267.23" y1="325.2" x2="267.23" y2="326.9" stroke="#000" stroke-width="0.7"/>
<line x1="269.52" y1="325.2" x2="269.52" y2="326.9" stroke="#000" stroke-width="0.7"/>
<line x1="271.29" y1="325.2" x2="271.29" y2="326.9" stroke="#000" stroke-width="0.7"/>
<line x1="272.74" y1="325.2" x2="272.74" y2="326.9" stroke="#000" stroke-width="0.7"/>
<line x1="273.97" y1="325.2" x2="273.97" y2="326.9" stroke="#000" stroke-width="0.7"/>
<line x1="275.03" y1="325.2" x2="275.03" y2="326.9" stroke="#000" stroke-width="0.7"/>
<line x1="275.96" y1="325.2" x2="275.96" y2="326.9" stroke="#000" stroke-width="0.7"/>
<line x1="276.8" y1="325.2" x2="276.8" y2="328.3" stroke="#000" stroke-width="0.95"/>
<text transform="translate(276.8 337.4) scale(0.960 1)" font-size="6.9" text-anchor="middle">10000</text>
<polyline points="185.3,284.4 203.6,284.81 221.9,286.6 240.2,286.68 258.5,292.89 276.8,309.08" fill="none" stroke="#6cb33f" stroke-width="1.2" stroke-linejoin="round"/>
<circle cx="185.3" cy="284.4" r="1.35" fill="#4f9a2c"/>
<circle cx="203.6" cy="284.81" r="1.35" fill="#4f9a2c"/>
<circle cx="221.9" cy="286.6" r="1.35" fill="#4f9a2c"/>
<circle cx="240.2" cy="286.68" r="1.35" fill="#4f9a2c"/>
<circle cx="258.5" cy="292.89" r="1.35" fill="#4f9a2c"/>
<circle cx="276.8" cy="309.08" r="1.35" fill="#4f9a2c"/>
<polyline points="185.3,284.4 203.6,284.4 221.9,285.62 240.2,281.54 258.5,283.3 276.8,301.7" fill="none" stroke="#6cb33f" stroke-width="1.2" stroke-dasharray="3.2,1.9" stroke-linejoin="round"/>
<circle cx="185.3" cy="284.4" r="1.35" fill="#4f9a2c"/>
<circle cx="203.6" cy="284.4" r="1.35" fill="#4f9a2c"/>
<circle cx="221.9" cy="285.62" r="1.35" fill="#4f9a2c"/>
<circle cx="240.2" cy="281.54" r="1.35" fill="#4f9a2c"/>
<circle cx="258.5" cy="283.3" r="1.35" fill="#4f9a2c"/>
<circle cx="276.8" cy="301.7" r="1.35" fill="#4f9a2c"/>
<polyline points="185.3,284.4 203.6,282.77 221.9,285.09 240.2,284.11 258.5,283.91 276.8,290.68" fill="none" stroke="#ad1539" stroke-width="1.2" stroke-linejoin="round"/>
<rect x="183.9" y="283" width="2.8" height="2.8" fill="#960b2c"/>
<rect x="202.2" y="281.37" width="2.8" height="2.8" fill="#960b2c"/>
<rect x="220.5" y="283.69" width="2.8" height="2.8" fill="#960b2c"/>
<rect x="238.8" y="282.71" width="2.8" height="2.8" fill="#960b2c"/>
<rect x="257.1" y="282.51" width="2.8" height="2.8" fill="#960b2c"/>
<rect x="275.4" y="289.28" width="2.8" height="2.8" fill="#960b2c"/>
<polyline points="185.3,284.4 203.6,283.18 221.9,283.99 240.2,284.4 258.5,284.4 276.8,291.42" fill="none" stroke="#ad1539" stroke-width="1.2" stroke-dasharray="3.2,1.9" stroke-linejoin="round"/>
<rect x="183.9" y="283" width="2.8" height="2.8" fill="#960b2c"/>
<rect x="202.2" y="281.78" width="2.8" height="2.8" fill="#960b2c"/>
<rect x="220.5" y="282.59" width="2.8" height="2.8" fill="#960b2c"/>
<rect x="238.8" y="283" width="2.8" height="2.8" fill="#960b2c"/>
<rect x="257.1" y="283" width="2.8" height="2.8" fill="#960b2c"/>
<rect x="275.4" y="290.02" width="2.8" height="2.8" fill="#960b2c"/>
<polyline points="185.3,284.4 203.6,281.14 221.9,281.71 240.2,283.01 258.5,285.3 276.8,294.8" fill="none" stroke="#385a98" stroke-width="1.2" stroke-linejoin="round"/>
<path d="M185.3,282.9L186.8,284.4L185.3,285.9L183.8,284.4Z" fill="#1f3a78" stroke="none" stroke-width="1"/>
<path d="M203.6,279.64L205.1,281.14L203.6,282.64L202.1,281.14Z" fill="#1f3a78" stroke="none" stroke-width="1"/>
<path d="M221.9,280.21L223.4,281.71L221.9,283.21L220.4,281.71Z" fill="#1f3a78" stroke="none" stroke-width="1"/>
<path d="M240.2,281.51L241.7,283.01L240.2,284.51L238.7,283.01Z" fill="#1f3a78" stroke="none" stroke-width="1"/>
<path d="M258.5,283.8L260,285.3L258.5,286.8L257,285.3Z" fill="#1f3a78" stroke="none" stroke-width="1"/>
<path d="M276.8,293.3L278.3,294.8L276.8,296.3L275.3,294.8Z" fill="#1f3a78" stroke="none" stroke-width="1"/>
<text transform="translate(232.3 245.1) scale(0.987 1)" font-size="9" text-anchor="middle">A1331852</text>
<text transform="translate(232.6 255.8) scale(0.894 1)" font-size="9" text-anchor="middle">(BCLxLi)</text>
<text transform="translate(232.7 348.7) scale(0.771 1)" font-size="7.7" text-anchor="middle" class="ti">[A1331852]<tspan dx="1.4"> (nM)</tspan></text>
<text transform="translate(160.8 293) rotate(-90) scale(0.805 1)" font-size="7.5" text-anchor="middle" class="ti">% viability (CTG)</text>
<line x1="343.2" y1="261.3" x2="343.2" y2="325.8" stroke="#000" stroke-width="1.1"/>
<line x1="342.7" y1="325.2" x2="437.9" y2="325.2" stroke="#000" stroke-width="1.1"/>
<line x1="340" y1="325.2" x2="343.2" y2="325.2" stroke="#000" stroke-width="0.9"/>
<text transform="translate(336.9 327.65) scale(0.950 1)" font-size="6.9" text-anchor="end">0</text>
<line x1="340" y1="304.8" x2="343.2" y2="304.8" stroke="#000" stroke-width="0.9"/>
<text transform="translate(336.9 307.25) scale(0.950 1)" font-size="6.9" text-anchor="end">50</text>
<line x1="340" y1="284.4" x2="343.2" y2="284.4" stroke="#000" stroke-width="0.9"/>
<text transform="translate(336.9 286.85) scale(0.950 1)" font-size="6.9" text-anchor="end">100</text>
<line x1="340" y1="264" x2="343.2" y2="264" stroke="#000" stroke-width="0.9"/>
<text transform="translate(336.9 266.45) scale(0.950 1)" font-size="6.9" text-anchor="end">150</text>
<line x1="343.2" y1="325.2" x2="343.2" y2="328.3" stroke="#000" stroke-width="0.95"/>
<text transform="translate(343.2 337.4) scale(0.960 1)" font-size="6.9" text-anchor="middle">0</text>
<line x1="348.72" y1="325.2" x2="348.72" y2="326.9" stroke="#000" stroke-width="0.7"/>
<line x1="351.96" y1="325.2" x2="351.96" y2="326.9" stroke="#000" stroke-width="0.7"/>
<line x1="354.25" y1="325.2" x2="354.25" y2="326.9" stroke="#000" stroke-width="0.7"/>
<line x1="356.03" y1="325.2" x2="356.03" y2="326.9" stroke="#000" stroke-width="0.7"/>
<line x1="357.48" y1="325.2" x2="357.48" y2="326.9" stroke="#000" stroke-width="0.7"/>
<line x1="358.71" y1="325.2" x2="358.71" y2="326.9" stroke="#000" stroke-width="0.7"/>
<line x1="359.77" y1="325.2" x2="359.77" y2="326.9" stroke="#000" stroke-width="0.7"/>
<line x1="360.71" y1="325.2" x2="360.71" y2="326.9" stroke="#000" stroke-width="0.7"/>
<line x1="361.55" y1="325.2" x2="361.55" y2="328.3" stroke="#000" stroke-width="0.95"/>
<text transform="translate(361.55 337.4) scale(0.960 1)" font-size="6.9" text-anchor="middle">1</text>
<line x1="367.07" y1="325.2" x2="367.07" y2="326.9" stroke="#000" stroke-width="0.7"/>
<line x1="370.31" y1="325.2" x2="370.31" y2="326.9" stroke="#000" stroke-width="0.7"/>
<line x1="372.6" y1="325.2" x2="372.6" y2="326.9" stroke="#000" stroke-width="0.7"/>
<line x1="374.38" y1="325.2" x2="374.38" y2="326.9" stroke="#000" stroke-width="0.7"/>
<line x1="375.83" y1="325.2" x2="375.83" y2="326.9" stroke="#000" stroke-width="0.7"/>
<line x1="377.06" y1="325.2" x2="377.06" y2="326.9" stroke="#000" stroke-width="0.7"/>
<line x1="378.12" y1="325.2" x2="378.12" y2="326.9" stroke="#000" stroke-width="0.7"/>
<line x1="379.06" y1="325.2" x2="379.06" y2="326.9" stroke="#000" stroke-width="0.7"/>
<line x1="379.9" y1="325.2" x2="379.9" y2="328.3" stroke="#000" stroke-width="0.95"/>
<text transform="translate(379.9 337.4) scale(0.960 1)" font-size="6.9" text-anchor="middle">10</text>
<line x1="385.42" y1="325.2" x2="385.42" y2="326.9" stroke="#000" stroke-width="0.7"/>
<line x1="388.66" y1="325.2" x2="388.66" y2="326.9" stroke="#000" stroke-width="0.7"/>
<line x1="390.95" y1="325.2" x2="390.95" y2="326.9" stroke="#000" stroke-width="0.7"/>
<line x1="392.73" y1="325.2" x2="392.73" y2="326.9" stroke="#000" stroke-width="0.7"/>
<line x1="394.18" y1="325.2" x2="394.18" y2="326.9" stroke="#000" stroke-width="0.7"/>
<line x1="395.41" y1="325.2" x2="395.41" y2="326.9" stroke="#000" stroke-width="0.7"/>
<line x1="396.47" y1="325.2" x2="396.47" y2="326.9" stroke="#000" stroke-width="0.7"/>
<line x1="397.41" y1="325.2" x2="397.41" y2="326.9" stroke="#000" stroke-width="0.7"/>
<line x1="398.25" y1="325.2" x2="398.25" y2="328.3" stroke="#000" stroke-width="0.95"/>
<text transform="translate(398.25 337.4) scale(0.960 1)" font-size="6.9" text-anchor="middle">100</text>
<line x1="403.77" y1="325.2" x2="403.77" y2="326.9" stroke="#000" stroke-width="0.7"/>
<line x1="407.01" y1="325.2" x2="407.01" y2="326.9" stroke="#000" stroke-width="0.7"/>
<line x1="409.3" y1="325.2" x2="409.3" y2="326.9" stroke="#000" stroke-width="0.7"/>
<line x1="411.08" y1="325.2" x2="411.08" y2="326.9" stroke="#000" stroke-width="0.7"/>
<line x1="412.53" y1="325.2" x2="412.53" y2="326.9" stroke="#000" stroke-width="0.7"/>
<line x1="413.76" y1="325.2" x2="413.76" y2="326.9" stroke="#000" stroke-width="0.7"/>
<line x1="414.82" y1="325.2" x2="414.82" y2="326.9" stroke="#000" stroke-width="0.7"/>
<line x1="415.76" y1="325.2" x2="415.76" y2="326.9" stroke="#000" stroke-width="0.7"/>
<line x1="416.6" y1="325.2" x2="416.6" y2="328.3" stroke="#000" stroke-width="0.95"/>
<text transform="translate(416.6 337.4) scale(0.960 1)" font-size="6.9" text-anchor="middle">1000</text>
<line x1="422.12" y1="325.2" x2="422.12" y2="326.9" stroke="#000" stroke-width="0.7"/>
<line x1="425.36" y1="325.2" x2="425.36" y2="326.9" stroke="#000" stroke-width="0.7"/>
<line x1="427.65" y1="325.2" x2="427.65" y2="326.9" stroke="#000" stroke-width="0.7"/>
<line x1="429.43" y1="325.2" x2="429.43" y2="326.9" stroke="#000" stroke-width="0.7"/>
<line x1="430.88" y1="325.2" x2="430.88" y2="326.9" stroke="#000" stroke-width="0.7"/>
<line x1="432.11" y1="325.2" x2="432.11" y2="326.9" stroke="#000" stroke-width="0.7"/>
<line x1="433.17" y1="325.2" x2="433.17" y2="326.9" stroke="#000" stroke-width="0.7"/>
<line x1="434.11" y1="325.2" x2="434.11" y2="326.9" stroke="#000" stroke-width="0.7"/>
<line x1="434.95" y1="325.2" x2="434.95" y2="328.3" stroke="#000" stroke-width="0.95"/>
<text transform="translate(434.95 337.4) scale(0.960 1)" font-size="6.9" text-anchor="middle">10000</text>
<polyline points="343.2,284.4 361.55,288.07 379.9,299.25 398.25,311.98 416.6,322.26 434.95,324.38" fill="none" stroke="#385a98" stroke-width="1.2" stroke-linejoin="round"/>
<path d="M343.2,282.9L344.7,284.4L343.2,285.9L341.7,284.4Z" fill="#1f3a78" stroke="none" stroke-width="1"/>
<path d="M361.55,286.57L363.05,288.07L361.55,289.57L360.05,288.07Z" fill="#1f3a78" stroke="none" stroke-width="1"/>
<path d="M379.9,297.75L381.4,299.25L379.9,300.75L378.4,299.25Z" fill="#1f3a78" stroke="none" stroke-width="1"/>
<path d="M398.25,310.48L399.75,311.98L398.25,313.48L396.75,311.98Z" fill="#1f3a78" stroke="none" stroke-width="1"/>
<path d="M416.6,320.76L418.1,322.26L416.6,323.76L415.1,322.26Z" fill="#1f3a78" stroke="none" stroke-width="1"/>
<path d="M434.95,322.88L436.45,324.38L434.95,325.88L433.45,324.38Z" fill="#1f3a78" stroke="none" stroke-width="1"/>
<polyline points="343.2,284.4 361.55,283.3 379.9,287.83 398.25,294.27 416.6,314.02 434.95,322.75" fill="none" stroke="#ad1539" stroke-width="1.2" stroke-linejoin="round"/>
<rect x="341.8" y="283" width="2.8" height="2.8" fill="#960b2c"/>
<rect x="360.15" y="281.9" width="2.8" height="2.8" fill="#960b2c"/>
<rect x="378.5" y="286.43" width="2.8" height="2.8" fill="#960b2c"/>
<rect x="396.85" y="292.87" width="2.8" height="2.8" fill="#960b2c"/>
<rect x="415.2" y="312.62" width="2.8" height="2.8" fill="#960b2c"/>
<rect x="433.55" y="321.35" width="2.8" height="2.8" fill="#960b2c"/>
<polyline points="343.2,284.4 361.55,281.95 379.9,281.54 398.25,284.89 416.6,308.19 434.95,322.34" fill="none" stroke="#6cb33f" stroke-width="1.2" stroke-linejoin="round"/>
<circle cx="343.2" cy="284.4" r="1.35" fill="#4f9a2c"/>
<circle cx="361.55" cy="281.95" r="1.35" fill="#4f9a2c"/>
<circle cx="379.9" cy="281.54" r="1.35" fill="#4f9a2c"/>
<circle cx="398.25" cy="284.89" r="1.35" fill="#4f9a2c"/>
<circle cx="416.6" cy="308.19" r="1.35" fill="#4f9a2c"/>
<circle cx="434.95" cy="322.34" r="1.35" fill="#4f9a2c"/>
<polyline points="343.2,284.4 361.55,279.67 379.9,278.69 398.25,280.89 416.6,304.8 434.95,321.94" fill="none" stroke="#6cb33f" stroke-width="1.2" stroke-dasharray="3.2,1.9" stroke-linejoin="round"/>
<circle cx="343.2" cy="284.4" r="1.35" fill="#4f9a2c"/>
<circle cx="361.55" cy="279.67" r="1.35" fill="#4f9a2c"/>
<circle cx="379.9" cy="278.69" r="1.35" fill="#4f9a2c"/>
<circle cx="398.25" cy="280.89" r="1.35" fill="#4f9a2c"/>
<circle cx="416.6" cy="304.8" r="1.35" fill="#4f9a2c"/>
<circle cx="434.95" cy="321.94" r="1.35" fill="#4f9a2c"/>
<polyline points="343.2,284.4 361.55,277.5 379.9,279.38 398.25,277.26 416.6,293.78 434.95,321.32" fill="none" stroke="#ad1539" stroke-width="1.2" stroke-dasharray="3.2,1.9" stroke-linejoin="round"/>
<rect x="341.8" y="283" width="2.8" height="2.8" fill="#960b2c"/>
<rect x="360.15" y="276.1" width="2.8" height="2.8" fill="#960b2c"/>
<rect x="378.5" y="277.98" width="2.8" height="2.8" fill="#960b2c"/>
<rect x="396.85" y="275.86" width="2.8" height="2.8" fill="#960b2c"/>
<rect x="415.2" y="292.38" width="2.8" height="2.8" fill="#960b2c"/>
<rect x="433.55" y="319.92" width="2.8" height="2.8" fill="#960b2c"/>
<text transform="translate(390.4 245.1) scale(0.993 1)" font-size="9" text-anchor="middle">S63845</text>
<text transform="translate(390.6 255.8) scale(0.947 1)" font-size="9" text-anchor="middle">(MCL1i)</text>
<text transform="translate(390.4 348.7) scale(0.795 1)" font-size="7.7" text-anchor="middle" class="ti">[S63845]<tspan dx="1.4"> (nM)</tspan></text>
<text transform="translate(318.8 293) rotate(-90) scale(0.805 1)" font-size="7.5" text-anchor="middle" class="ti">% viability (CTG)</text>
<line x1="453.9" y1="271.1" x2="460.9" y2="271.1" stroke="#385a98" stroke-width="1"/>
<path d="M457.4,269.6L458.9,271.1L457.4,272.6L455.9,271.1Z" fill="#1f3a78" stroke="none" stroke-width="1"/>
<text transform="translate(463.9 272.95) scale(0.929 1)" font-size="5.6" class="lg">Day 0 Unstimulated</text>
<line x1="453.9" y1="280.37" x2="460.9" y2="280.37" stroke="#ad1539" stroke-width="1"/>
<rect x="456" y="278.97" width="2.8" height="2.8" fill="#960b2c"/>
<text transform="translate(463.9 282.22) scale(0.937 1)" font-size="5.6" class="lg">Day 34 Unstimulated</text>
<line x1="453.9" y1="289.64" x2="460.9" y2="289.64" stroke="#ad1539" stroke-width="1"/>
<rect x="456" y="288.24" width="2.8" height="2.8" fill="#960b2c"/>
<text transform="translate(463.9 291.49) scale(0.933 1)" font-size="5.6" class="lg">Day 34 Stimulated</text>
<line x1="453.9" y1="298.91" x2="460.9" y2="298.91" stroke="#6cb33f" stroke-width="1"/>
<circle cx="457.4" cy="298.91" r="1.35" fill="#4f9a2c"/>
<text transform="translate(463.9 300.76) scale(0.937 1)" font-size="5.6" class="lg">Day 63 Unstimulated</text>
<line x1="453.9" y1="308.18" x2="460.9" y2="308.18" stroke="#6cb33f" stroke-width="1"/>
<circle cx="457.4" cy="308.18" r="1.35" fill="#4f9a2c"/>
<text transform="translate(463.9 310.03) scale(0.933 1)" font-size="5.6" class="lg">Day 63 Stimulated</text>
<text transform="translate(7 377.3)" font-size="11.8" font-weight="bold" fill="#000">C</text>
<line x1="39.4" y1="390.5" x2="39.4" y2="455.4" stroke="#000" stroke-width="1.1"/>
<line x1="38.9" y1="454.8" x2="133.6" y2="454.8" stroke="#000" stroke-width="1.1"/>
<line x1="36.2" y1="454.8" x2="39.4" y2="454.8" stroke="#000" stroke-width="0.9"/>
<text transform="translate(33.1 457.25) scale(0.950 1)" font-size="6.9" text-anchor="end">0</text>
<line x1="36.2" y1="434.3" x2="39.4" y2="434.3" stroke="#000" stroke-width="0.9"/>
<text transform="translate(33.1 436.75) scale(0.950 1)" font-size="6.9" text-anchor="end">50</text>
<line x1="36.2" y1="413.8" x2="39.4" y2="413.8" stroke="#000" stroke-width="0.9"/>
<text transform="translate(33.1 416.25) scale(0.950 1)" font-size="6.9" text-anchor="end">100</text>
<line x1="36.2" y1="393.3" x2="39.4" y2="393.3" stroke="#000" stroke-width="0.9"/>
<text transform="translate(33.1 395.75) scale(0.950 1)" font-size="6.9" text-anchor="end">150</text>
<line x1="39.4" y1="454.8" x2="39.4" y2="457.9" stroke="#000" stroke-width="0.95"/>
<text transform="translate(39.4 467) scale(0.960 1)" font-size="6.9" text-anchor="middle">0</text>
<line x1="48.59" y1="454.8" x2="48.59" y2="456.5" stroke="#000" stroke-width="0.7"/>
<line x1="53.97" y1="454.8" x2="53.97" y2="456.5" stroke="#000" stroke-width="0.7"/>
<line x1="57.78" y1="454.8" x2="57.78" y2="456.5" stroke="#000" stroke-width="0.7"/>
<line x1="60.74" y1="454.8" x2="60.74" y2="456.5" stroke="#000" stroke-width="0.7"/>
<line x1="63.16" y1="454.8" x2="63.16" y2="456.5" stroke="#000" stroke-width="0.7"/>
<line x1="65.2" y1="454.8" x2="65.2" y2="456.5" stroke="#000" stroke-width="0.7"/>
<line x1="66.97" y1="454.8" x2="66.97" y2="456.5" stroke="#000" stroke-width="0.7"/>
<line x1="68.53" y1="454.8" x2="68.53" y2="456.5" stroke="#000" stroke-width="0.7"/>
<line x1="69.93" y1="454.8" x2="69.93" y2="457.9" stroke="#000" stroke-width="0.95"/>
<text transform="translate(69.93 467) scale(0.960 1)" font-size="6.9" text-anchor="middle">10</text>
<line x1="79.12" y1="454.8" x2="79.12" y2="456.5" stroke="#000" stroke-width="0.7"/>
<line x1="84.5" y1="454.8" x2="84.5" y2="456.5" stroke="#000" stroke-width="0.7"/>
<line x1="88.31" y1="454.8" x2="88.31" y2="456.5" stroke="#000" stroke-width="0.7"/>
<line x1="91.27" y1="454.8" x2="91.27" y2="456.5" stroke="#000" stroke-width="0.7"/>
<line x1="93.69" y1="454.8" x2="93.69" y2="456.5" stroke="#000" stroke-width="0.7"/>
<line x1="95.73" y1="454.8" x2="95.73" y2="456.5" stroke="#000" stroke-width="0.7"/>
<line x1="97.5" y1="454.8" x2="97.5" y2="456.5" stroke="#000" stroke-width="0.7"/>
<line x1="99.06" y1="454.8" x2="99.06" y2="456.5" stroke="#000" stroke-width="0.7"/>
<line x1="100.46" y1="454.8" x2="100.46" y2="457.9" stroke="#000" stroke-width="0.95"/>
<text transform="translate(100.46 467) scale(0.960 1)" font-size="6.9" text-anchor="middle">100</text>
<line x1="109.65" y1="454.8" x2="109.65" y2="456.5" stroke="#000" stroke-width="0.7"/>
<line x1="115.03" y1="454.8" x2="115.03" y2="456.5" stroke="#000" stroke-width="0.7"/>
<line x1="118.84" y1="454.8" x2="118.84" y2="456.5" stroke="#000" stroke-width="0.7"/>
<line x1="121.8" y1="454.8" x2="121.8" y2="456.5" stroke="#000" stroke-width="0.7"/>
<line x1="124.22" y1="454.8" x2="124.22" y2="456.5" stroke="#000" stroke-width="0.7"/>
<line x1="126.26" y1="454.8" x2="126.26" y2="456.5" stroke="#000" stroke-width="0.7"/>
<line x1="128.03" y1="454.8" x2="128.03" y2="456.5" stroke="#000" stroke-width="0.7"/>
<line x1="129.59" y1="454.8" x2="129.59" y2="456.5" stroke="#000" stroke-width="0.7"/>
<line x1="130.99" y1="454.8" x2="130.99" y2="457.9" stroke="#000" stroke-width="0.95"/>
<text transform="translate(130.99 467) scale(0.960 1)" font-size="6.9" text-anchor="middle">1000</text>
<polyline points="39.4,413.8 69.93,417.94 100.46,428.31 130.99,451.52" fill="none" stroke="#385a98" stroke-width="1.2" stroke-linejoin="round"/>
<circle cx="39.4" cy="413.8" r="1.35" fill="#1f3a78"/>
<circle cx="69.93" cy="417.94" r="1.35" fill="#1f3a78"/>
<circle cx="100.46" cy="428.31" r="1.35" fill="#1f3a78"/>
<circle cx="130.99" cy="451.52" r="1.35" fill="#1f3a78"/>
<polyline points="39.4,416.92 69.93,419.13 100.46,433.93 130.99,452.79" fill="none" stroke="#ad1539" stroke-width="1.2" stroke-linejoin="round"/>
<circle cx="39.4" cy="416.92" r="1.35" fill="#960b2c"/>
<circle cx="69.93" cy="419.13" r="1.35" fill="#960b2c"/>
<circle cx="100.46" cy="433.93" r="1.35" fill="#960b2c"/>
<circle cx="130.99" cy="452.79" r="1.35" fill="#960b2c"/>
<polyline points="39.4,419.7 69.93,424.91 100.46,449.1 130.99,453.57" fill="none" stroke="#6cb33f" stroke-width="1.2" stroke-linejoin="round"/>
<circle cx="39.4" cy="419.7" r="1.35" fill="#4f9a2c"/>
<circle cx="69.93" cy="424.91" r="1.35" fill="#4f9a2c"/>
<circle cx="100.46" cy="449.1" r="1.35" fill="#4f9a2c"/>
<circle cx="130.99" cy="453.57" r="1.35" fill="#4f9a2c"/>
<polyline points="39.4,435.65 69.93,445.49 100.46,453.57 130.99,454.19" fill="none" stroke="#5a2a80" stroke-width="1.2" stroke-linejoin="round"/>
<circle cx="39.4" cy="435.65" r="1.35" fill="#3f1a66"/>
<circle cx="69.93" cy="445.49" r="1.35" fill="#3f1a66"/>
<circle cx="100.46" cy="453.57" r="1.35" fill="#3f1a66"/>
<circle cx="130.99" cy="454.19" r="1.35" fill="#3f1a66"/>
<text transform="translate(86.7 375) scale(0.929 1)" font-size="9" text-anchor="middle">Day 34 Unstimulated</text>
<text transform="translate(86.85 385.6) scale(0.987 1)" font-size="9" text-anchor="middle">CI = 0.44</text>
<text transform="translate(86.8 478.4) scale(0.793 1)" font-size="7.7" text-anchor="middle" class="ti">[venetoclax]<tspan dx="1.4"> (nM)</tspan></text>
<text transform="translate(14.9 422.6) rotate(-90) scale(0.805 1)" font-size="7.5" text-anchor="middle" class="ti">% viability (CTG)</text>
<line x1="185.1" y1="390.8" x2="185.1" y2="455.4" stroke="#000" stroke-width="1.1"/>
<line x1="184.6" y1="454.8" x2="279.7" y2="454.8" stroke="#000" stroke-width="1.1"/>
<line x1="181.9" y1="454.8" x2="185.1" y2="454.8" stroke="#000" stroke-width="0.9"/>
<text transform="translate(178.8 457.25) scale(0.950 1)" font-size="6.9" text-anchor="end">0</text>
<line x1="181.9" y1="434.3" x2="185.1" y2="434.3" stroke="#000" stroke-width="0.9"/>
<text transform="translate(178.8 436.75) scale(0.950 1)" font-size="6.9" text-anchor="end">50</text>
<line x1="181.9" y1="413.8" x2="185.1" y2="413.8" stroke="#000" stroke-width="0.9"/>
<text transform="translate(178.8 416.25) scale(0.950 1)" font-size="6.9" text-anchor="end">100</text>
<line x1="181.9" y1="393.3" x2="185.1" y2="393.3" stroke="#000" stroke-width="0.9"/>
<text transform="translate(178.8 395.75) scale(0.950 1)" font-size="6.9" text-anchor="end">150</text>
<line x1="185.1" y1="454.8" x2="185.1" y2="457.9" stroke="#000" stroke-width="0.95"/>
<text transform="translate(185.1 467) scale(0.960 1)" font-size="6.9" text-anchor="middle">0</text>
<line x1="194.3" y1="454.8" x2="194.3" y2="456.5" stroke="#000" stroke-width="0.7"/>
<line x1="199.69" y1="454.8" x2="199.69" y2="456.5" stroke="#000" stroke-width="0.7"/>
<line x1="203.5" y1="454.8" x2="203.5" y2="456.5" stroke="#000" stroke-width="0.7"/>
<line x1="206.47" y1="454.8" x2="206.47" y2="456.5" stroke="#000" stroke-width="0.7"/>
<line x1="208.89" y1="454.8" x2="208.89" y2="456.5" stroke="#000" stroke-width="0.7"/>
<line x1="210.93" y1="454.8" x2="210.93" y2="456.5" stroke="#000" stroke-width="0.7"/>
<line x1="212.71" y1="454.8" x2="212.71" y2="456.5" stroke="#000" stroke-width="0.7"/>
<line x1="214.27" y1="454.8" x2="214.27" y2="456.5" stroke="#000" stroke-width="0.7"/>
<line x1="215.67" y1="454.8" x2="215.67" y2="457.9" stroke="#000" stroke-width="0.95"/>
<text transform="translate(215.67 467) scale(0.960 1)" font-size="6.9" text-anchor="middle">10</text>
<line x1="224.87" y1="454.8" x2="224.87" y2="456.5" stroke="#000" stroke-width="0.7"/>
<line x1="230.26" y1="454.8" x2="230.26" y2="456.5" stroke="#000" stroke-width="0.7"/>
<line x1="234.07" y1="454.8" x2="234.07" y2="456.5" stroke="#000" stroke-width="0.7"/>
<line x1="237.04" y1="454.8" x2="237.04" y2="456.5" stroke="#000" stroke-width="0.7"/>
<line x1="239.46" y1="454.8" x2="239.46" y2="456.5" stroke="#000" stroke-width="0.7"/>
<line x1="241.5" y1="454.8" x2="241.5" y2="456.5" stroke="#000" stroke-width="0.7"/>
<line x1="243.28" y1="454.8" x2="243.28" y2="456.5" stroke="#000" stroke-width="0.7"/>
<line x1="244.84" y1="454.8" x2="244.84" y2="456.5" stroke="#000" stroke-width="0.7"/>
<line x1="246.24" y1="454.8" x2="246.24" y2="457.9" stroke="#000" stroke-width="0.95"/>
<text transform="translate(246.24 467) scale(0.960 1)" font-size="6.9" text-anchor="middle">100</text>
<line x1="255.44" y1="454.8" x2="255.44" y2="456.5" stroke="#000" stroke-width="0.7"/>
<line x1="260.83" y1="454.8" x2="260.83" y2="456.5" stroke="#000" stroke-width="0.7"/>
<line x1="264.64" y1="454.8" x2="264.64" y2="456.5" stroke="#000" stroke-width="0.7"/>
<line x1="267.61" y1="454.8" x2="267.61" y2="456.5" stroke="#000" stroke-width="0.7"/>
<line x1="270.03" y1="454.8" x2="270.03" y2="456.5" stroke="#000" stroke-width="0.7"/>
<line x1="272.07" y1="454.8" x2="272.07" y2="456.5" stroke="#000" stroke-width="0.7"/>
<line x1="273.85" y1="454.8" x2="273.85" y2="456.5" stroke="#000" stroke-width="0.7"/>
<line x1="275.41" y1="454.8" x2="275.41" y2="456.5" stroke="#000" stroke-width="0.7"/>
<line x1="276.81" y1="454.8" x2="276.81" y2="457.9" stroke="#000" stroke-width="0.95"/>
<text transform="translate(276.81 467) scale(0.960 1)" font-size="6.9" text-anchor="middle">1000</text>
<polyline points="185.1,413.8 215.67,421.06 246.24,432.78 276.81,445.21" fill="none" stroke="#385a98" stroke-width="1.2" stroke-linejoin="round"/>
<circle cx="185.1" cy="413.8" r="1.35" fill="#1f3a78"/>
<circle cx="215.67" cy="421.06" r="1.35" fill="#1f3a78"/>
<circle cx="246.24" cy="432.78" r="1.35" fill="#1f3a78"/>
<circle cx="276.81" cy="445.21" r="1.35" fill="#1f3a78"/>
<polyline points="185.1,419.95 215.67,424.71 246.24,444.88 276.81,452.22" fill="none" stroke="#ad1539" stroke-width="1.2" stroke-linejoin="round"/>
<circle cx="185.1" cy="419.95" r="1.35" fill="#960b2c"/>
<circle cx="215.67" cy="424.71" r="1.35" fill="#960b2c"/>
<circle cx="246.24" cy="444.88" r="1.35" fill="#960b2c"/>
<circle cx="276.81" cy="452.22" r="1.35" fill="#960b2c"/>
<polyline points="185.1,418.31 215.67,431.02 246.24,452.75 276.81,453.69" fill="none" stroke="#6cb33f" stroke-width="1.2" stroke-linejoin="round"/>
<circle cx="185.1" cy="418.31" r="1.35" fill="#4f9a2c"/>
<circle cx="215.67" cy="431.02" r="1.35" fill="#4f9a2c"/>
<circle cx="246.24" cy="452.75" r="1.35" fill="#4f9a2c"/>
<circle cx="276.81" cy="453.69" r="1.35" fill="#4f9a2c"/>
<polyline points="185.1,439.51 215.67,445.78 246.24,453.04 276.81,453.98" fill="none" stroke="#5a2a80" stroke-width="1.2" stroke-linejoin="round"/>
<circle cx="185.1" cy="439.51" r="1.35" fill="#3f1a66"/>
<circle cx="215.67" cy="445.78" r="1.35" fill="#3f1a66"/>
<circle cx="246.24" cy="453.04" r="1.35" fill="#3f1a66"/>
<circle cx="276.81" cy="453.98" r="1.35" fill="#3f1a66"/>
<text transform="translate(232.5 375) scale(0.928 1)" font-size="9" text-anchor="middle">Day 63 Unstimulated</text>
<text transform="translate(232.1 385.4) scale(0.995 1)" font-size="9" text-anchor="middle">CI = 0.14</text>
<text transform="translate(232.4 478.4) scale(0.793 1)" font-size="7.7" text-anchor="middle" class="ti">[venetoclax]<tspan dx="1.4"> (nM)</tspan></text>
<text transform="translate(160.8 422.6) rotate(-90) scale(0.805 1)" font-size="7.5" text-anchor="middle" class="ti">% viability (CTG)</text>
<line x1="343.1" y1="390.8" x2="343.1" y2="455.4" stroke="#000" stroke-width="1.1"/>
<line x1="342.6" y1="454.8" x2="437.6" y2="454.8" stroke="#000" stroke-width="1.1"/>
<line x1="339.9" y1="454.8" x2="343.1" y2="454.8" stroke="#000" stroke-width="0.9"/>
<text transform="translate(336.8 457.25) scale(0.950 1)" font-size="6.9" text-anchor="end">0</text>
<line x1="339.9" y1="434.3" x2="343.1" y2="434.3" stroke="#000" stroke-width="0.9"/>
<text transform="translate(336.8 436.75) scale(0.950 1)" font-size="6.9" text-anchor="end">50</text>
<line x1="339.9" y1="413.8" x2="343.1" y2="413.8" stroke="#000" stroke-width="0.9"/>
<text transform="translate(336.8 416.25) scale(0.950 1)" font-size="6.9" text-anchor="end">100</text>
<line x1="339.9" y1="393.3" x2="343.1" y2="393.3" stroke="#000" stroke-width="0.9"/>
<text transform="translate(336.8 395.75) scale(0.950 1)" font-size="6.9" text-anchor="end">150</text>
<line x1="343.1" y1="454.8" x2="343.1" y2="457.9" stroke="#000" stroke-width="0.95"/>
<text transform="translate(343.1 467) scale(0.960 1)" font-size="6.9" text-anchor="middle">0</text>
<line x1="352.3" y1="454.8" x2="352.3" y2="456.5" stroke="#000" stroke-width="0.7"/>
<line x1="357.69" y1="454.8" x2="357.69" y2="456.5" stroke="#000" stroke-width="0.7"/>
<line x1="361.5" y1="454.8" x2="361.5" y2="456.5" stroke="#000" stroke-width="0.7"/>
<line x1="364.47" y1="454.8" x2="364.47" y2="456.5" stroke="#000" stroke-width="0.7"/>
<line x1="366.89" y1="454.8" x2="366.89" y2="456.5" stroke="#000" stroke-width="0.7"/>
<line x1="368.93" y1="454.8" x2="368.93" y2="456.5" stroke="#000" stroke-width="0.7"/>
<line x1="370.71" y1="454.8" x2="370.71" y2="456.5" stroke="#000" stroke-width="0.7"/>
<line x1="372.27" y1="454.8" x2="372.27" y2="456.5" stroke="#000" stroke-width="0.7"/>
<line x1="373.67" y1="454.8" x2="373.67" y2="457.9" stroke="#000" stroke-width="0.95"/>
<text transform="translate(373.67 467) scale(0.960 1)" font-size="6.9" text-anchor="middle">10</text>
<line x1="382.87" y1="454.8" x2="382.87" y2="456.5" stroke="#000" stroke-width="0.7"/>
<line x1="388.26" y1="454.8" x2="388.26" y2="456.5" stroke="#000" stroke-width="0.7"/>
<line x1="392.07" y1="454.8" x2="392.07" y2="456.5" stroke="#000" stroke-width="0.7"/>
<line x1="395.04" y1="454.8" x2="395.04" y2="456.5" stroke="#000" stroke-width="0.7"/>
<line x1="397.46" y1="454.8" x2="397.46" y2="456.5" stroke="#000" stroke-width="0.7"/>
<line x1="399.5" y1="454.8" x2="399.5" y2="456.5" stroke="#000" stroke-width="0.7"/>
<line x1="401.28" y1="454.8" x2="401.28" y2="456.5" stroke="#000" stroke-width="0.7"/>
<line x1="402.84" y1="454.8" x2="402.84" y2="456.5" stroke="#000" stroke-width="0.7"/>
<line x1="404.24" y1="454.8" x2="404.24" y2="457.9" stroke="#000" stroke-width="0.95"/>
<text transform="translate(404.24 467) scale(0.960 1)" font-size="6.9" text-anchor="middle">100</text>
<line x1="413.44" y1="454.8" x2="413.44" y2="456.5" stroke="#000" stroke-width="0.7"/>
<line x1="418.83" y1="454.8" x2="418.83" y2="456.5" stroke="#000" stroke-width="0.7"/>
<line x1="422.64" y1="454.8" x2="422.64" y2="456.5" stroke="#000" stroke-width="0.7"/>
<line x1="425.61" y1="454.8" x2="425.61" y2="456.5" stroke="#000" stroke-width="0.7"/>
<line x1="428.03" y1="454.8" x2="428.03" y2="456.5" stroke="#000" stroke-width="0.7"/>
<line x1="430.07" y1="454.8" x2="430.07" y2="456.5" stroke="#000" stroke-width="0.7"/>
<line x1="431.85" y1="454.8" x2="431.85" y2="456.5" stroke="#000" stroke-width="0.7"/>
<line x1="433.41" y1="454.8" x2="433.41" y2="456.5" stroke="#000" stroke-width="0.7"/>
<line x1="434.81" y1="454.8" x2="434.81" y2="457.9" stroke="#000" stroke-width="0.95"/>
<text transform="translate(434.81 467) scale(0.960 1)" font-size="6.9" text-anchor="middle">1000</text>
<polyline points="343.1,413.8 373.67,419.21 404.24,431.72 434.81,445.21" fill="none" stroke="#385a98" stroke-width="1.2" stroke-linejoin="round"/>
<circle cx="343.1" cy="413.8" r="1.35" fill="#1f3a78"/>
<circle cx="373.67" cy="419.21" r="1.35" fill="#1f3a78"/>
<circle cx="404.24" cy="431.72" r="1.35" fill="#1f3a78"/>
<circle cx="434.81" cy="445.21" r="1.35" fill="#1f3a78"/>
<polyline points="343.1,412.16 373.67,421.06 404.24,442.58 434.81,452.46" fill="none" stroke="#ad1539" stroke-width="1.2" stroke-linejoin="round"/>
<circle cx="343.1" cy="412.16" r="1.35" fill="#960b2c"/>
<circle cx="373.67" cy="421.06" r="1.35" fill="#960b2c"/>
<circle cx="404.24" cy="442.58" r="1.35" fill="#960b2c"/>
<circle cx="434.81" cy="452.46" r="1.35" fill="#960b2c"/>
<polyline points="343.1,416.67 373.67,431.18 404.24,451.27 434.81,453.28" fill="none" stroke="#6cb33f" stroke-width="1.2" stroke-linejoin="round"/>
<circle cx="343.1" cy="416.67" r="1.35" fill="#4f9a2c"/>
<circle cx="373.67" cy="431.18" r="1.35" fill="#4f9a2c"/>
<circle cx="404.24" cy="451.27" r="1.35" fill="#4f9a2c"/>
<circle cx="434.81" cy="453.28" r="1.35" fill="#4f9a2c"/>
<polyline points="343.1,436.88 373.67,446.31 404.24,453.04 434.81,453.98" fill="none" stroke="#5a2a80" stroke-width="1.2" stroke-linejoin="round"/>
<circle cx="343.1" cy="436.88" r="1.35" fill="#3f1a66"/>
<circle cx="373.67" cy="446.31" r="1.35" fill="#3f1a66"/>
<circle cx="404.24" cy="453.04" r="1.35" fill="#3f1a66"/>
<circle cx="434.81" cy="453.98" r="1.35" fill="#3f1a66"/>
<text transform="translate(390.5 375) scale(0.933 1)" font-size="9" text-anchor="middle">Day 63 Stimulated</text>
<text transform="translate(390.2 385.4) scale(0.995 1)" font-size="9" text-anchor="middle">CI = 0.26</text>
<text transform="translate(390.4 478.4) scale(0.793 1)" font-size="7.7" text-anchor="middle" class="ti">[venetoclax]<tspan dx="1.4"> (nM)</tspan></text>
<text transform="translate(318.8 422.6) rotate(-90) scale(0.805 1)" font-size="7.5" text-anchor="middle" class="ti">% viability (CTG)</text>
<line x1="453.9" y1="397.2" x2="460.9" y2="397.2" stroke="#385a98" stroke-width="1"/>
<circle cx="457.4" cy="397.2" r="1.35" fill="#1f3a78"/>
<text transform="translate(463.8 398.95) scale(1.008 1)" font-size="5.6" class="lg">S63845 0nM</text>
<line x1="453.9" y1="406.3" x2="460.9" y2="406.3" stroke="#ad1539" stroke-width="1"/>
<circle cx="457.4" cy="406.3" r="1.35" fill="#960b2c"/>
<text transform="translate(463.8 408.05) scale(1.007 1)" font-size="5.6" class="lg">S63845 10nM</text>
<line x1="453.9" y1="415.4" x2="460.9" y2="415.4" stroke="#6cb33f" stroke-width="1"/>
<circle cx="457.4" cy="415.4" r="1.35" fill="#4f9a2c"/>
<text transform="translate(463.8 417.15) scale(1.008 1)" font-size="5.6" class="lg">S63845 100nM</text>
<line x1="453.9" y1="424.5" x2="460.9" y2="424.5" stroke="#5a2a80" stroke-width="1"/>
<circle cx="457.4" cy="424.5" r="1.35" fill="#3f1a66"/>
<text transform="translate(463.8 426.25) scale(1.005 1)" font-size="5.6" class="lg">S63845 1000nM</text>
<text transform="translate(7.2 507.3)" font-size="11.8" font-weight="bold" fill="#000">D</text>
<line x1="39.4" y1="520.4" x2="39.4" y2="584.8" stroke="#000" stroke-width="1.1"/>
<line x1="38.9" y1="584.2" x2="133.6" y2="584.2" stroke="#000" stroke-width="1.1"/>
<line x1="36.2" y1="584.2" x2="39.4" y2="584.2" stroke="#000" stroke-width="0.9"/>
<text transform="translate(33.1 586.65) scale(0.950 1)" font-size="6.9" text-anchor="end">0</text>
<line x1="36.2" y1="563.9" x2="39.4" y2="563.9" stroke="#000" stroke-width="0.9"/>
<text transform="translate(33.1 566.35) scale(0.950 1)" font-size="6.9" text-anchor="end">50</text>
<line x1="36.2" y1="543.6" x2="39.4" y2="543.6" stroke="#000" stroke-width="0.9"/>
<text transform="translate(33.1 546.05) scale(0.950 1)" font-size="6.9" text-anchor="end">100</text>
<line x1="36.2" y1="523.3" x2="39.4" y2="523.3" stroke="#000" stroke-width="0.9"/>
<text transform="translate(33.1 525.75) scale(0.950 1)" font-size="6.9" text-anchor="end">150</text>
<line x1="39.4" y1="584.2" x2="39.4" y2="587.3" stroke="#000" stroke-width="0.95"/>
<text transform="translate(39.4 596.4) scale(0.960 1)" font-size="6.9" text-anchor="middle">0</text>
<line x1="48.59" y1="584.2" x2="48.59" y2="585.9" stroke="#000" stroke-width="0.7"/>
<line x1="53.97" y1="584.2" x2="53.97" y2="585.9" stroke="#000" stroke-width="0.7"/>
<line x1="57.78" y1="584.2" x2="57.78" y2="585.9" stroke="#000" stroke-width="0.7"/>
<line x1="60.74" y1="584.2" x2="60.74" y2="585.9" stroke="#000" stroke-width="0.7"/>
<line x1="63.16" y1="584.2" x2="63.16" y2="585.9" stroke="#000" stroke-width="0.7"/>
<line x1="65.2" y1="584.2" x2="65.2" y2="585.9" stroke="#000" stroke-width="0.7"/>
<line x1="66.97" y1="584.2" x2="66.97" y2="585.9" stroke="#000" stroke-width="0.7"/>
<line x1="68.53" y1="584.2" x2="68.53" y2="585.9" stroke="#000" stroke-width="0.7"/>
<line x1="69.93" y1="584.2" x2="69.93" y2="587.3" stroke="#000" stroke-width="0.95"/>
<text transform="translate(69.93 596.4) scale(0.960 1)" font-size="6.9" text-anchor="middle">10</text>
<line x1="79.12" y1="584.2" x2="79.12" y2="585.9" stroke="#000" stroke-width="0.7"/>
<line x1="84.5" y1="584.2" x2="84.5" y2="585.9" stroke="#000" stroke-width="0.7"/>
<line x1="88.31" y1="584.2" x2="88.31" y2="585.9" stroke="#000" stroke-width="0.7"/>
<line x1="91.27" y1="584.2" x2="91.27" y2="585.9" stroke="#000" stroke-width="0.7"/>
<line x1="93.69" y1="584.2" x2="93.69" y2="585.9" stroke="#000" stroke-width="0.7"/>
<line x1="95.73" y1="584.2" x2="95.73" y2="585.9" stroke="#000" stroke-width="0.7"/>
<line x1="97.5" y1="584.2" x2="97.5" y2="585.9" stroke="#000" stroke-width="0.7"/>
<line x1="99.06" y1="584.2" x2="99.06" y2="585.9" stroke="#000" stroke-width="0.7"/>
<line x1="100.46" y1="584.2" x2="100.46" y2="587.3" stroke="#000" stroke-width="0.95"/>
<text transform="translate(100.46 596.4) scale(0.960 1)" font-size="6.9" text-anchor="middle">100</text>
<line x1="109.65" y1="584.2" x2="109.65" y2="585.9" stroke="#000" stroke-width="0.7"/>
<line x1="115.03" y1="584.2" x2="115.03" y2="585.9" stroke="#000" stroke-width="0.7"/>
<line x1="118.84" y1="584.2" x2="118.84" y2="585.9" stroke="#000" stroke-width="0.7"/>
<line x1="121.8" y1="584.2" x2="121.8" y2="585.9" stroke="#000" stroke-width="0.7"/>
<line x1="124.22" y1="584.2" x2="124.22" y2="585.9" stroke="#000" stroke-width="0.7"/>
<line x1="126.26" y1="584.2" x2="126.26" y2="585.9" stroke="#000" stroke-width="0.7"/>
<line x1="128.03" y1="584.2" x2="128.03" y2="585.9" stroke="#000" stroke-width="0.7"/>
<line x1="129.59" y1="584.2" x2="129.59" y2="585.9" stroke="#000" stroke-width="0.7"/>
<line x1="130.99" y1="584.2" x2="130.99" y2="587.3" stroke="#000" stroke-width="0.95"/>
<text transform="translate(130.99 596.4) scale(0.960 1)" font-size="6.9" text-anchor="middle">1000</text>
<polyline points="39.4,538.32 69.93,541.98 100.46,559.43 130.99,577.58" fill="none" stroke="#6cb33f" stroke-width="1.2" stroke-linejoin="round"/>
<circle cx="39.4" cy="538.32" r="1.35" fill="#4f9a2c"/>
<circle cx="69.93" cy="541.98" r="1.35" fill="#4f9a2c"/>
<circle cx="100.46" cy="559.43" r="1.35" fill="#4f9a2c"/>
<circle cx="130.99" cy="577.58" r="1.35" fill="#4f9a2c"/>
<polyline points="39.4,538.32 69.93,543.8 100.46,559.84 130.99,578.52" fill="none" stroke="#ad1539" stroke-width="1.2" stroke-linejoin="round"/>
<circle cx="39.4" cy="538.32" r="1.35" fill="#960b2c"/>
<circle cx="69.93" cy="543.8" r="1.35" fill="#960b2c"/>
<circle cx="100.46" cy="559.84" r="1.35" fill="#960b2c"/>
<circle cx="130.99" cy="578.52" r="1.35" fill="#960b2c"/>
<polyline points="39.4,541.16 69.93,545.63 100.46,564.14 130.99,580.83" fill="none" stroke="#5a2a80" stroke-width="1.2" stroke-linejoin="round"/>
<circle cx="39.4" cy="541.16" r="1.35" fill="#3f1a66"/>
<circle cx="69.93" cy="545.63" r="1.35" fill="#3f1a66"/>
<circle cx="100.46" cy="564.14" r="1.35" fill="#3f1a66"/>
<circle cx="130.99" cy="580.83" r="1.35" fill="#3f1a66"/>
<polyline points="39.4,543.6 69.93,547.25 100.46,560.86 130.99,577.58" fill="none" stroke="#385a98" stroke-width="1.2" stroke-linejoin="round"/>
<circle cx="39.4" cy="543.6" r="1.35" fill="#1f3a78"/>
<circle cx="69.93" cy="547.25" r="1.35" fill="#1f3a78"/>
<circle cx="100.46" cy="560.86" r="1.35" fill="#1f3a78"/>
<circle cx="130.99" cy="577.58" r="1.35" fill="#1f3a78"/>
<text transform="translate(86.7 505) scale(0.933 1)" font-size="9" text-anchor="middle">Day 63 Unstimulated</text>
<text transform="translate(86.25 515.2) scale(0.911 1)" font-size="9" text-anchor="middle">CI &gt; 1</text>
<text transform="translate(86.8 608.2) scale(0.793 1)" font-size="7.7" text-anchor="middle" class="ti">[venetoclax]<tspan dx="1.4"> (nM)</tspan></text>
<text transform="translate(14.9 552.4) rotate(-90) scale(0.805 1)" font-size="7.5" text-anchor="middle" class="ti">% viability (CTG)</text>
<line x1="185.1" y1="520.1" x2="185.1" y2="584.8" stroke="#000" stroke-width="1.1"/>
<line x1="184.6" y1="584.2" x2="279.7" y2="584.2" stroke="#000" stroke-width="1.1"/>
<line x1="181.9" y1="584.2" x2="185.1" y2="584.2" stroke="#000" stroke-width="0.9"/>
<text transform="translate(178.8 586.65) scale(0.950 1)" font-size="6.9" text-anchor="end">0</text>
<line x1="181.9" y1="563.9" x2="185.1" y2="563.9" stroke="#000" stroke-width="0.9"/>
<text transform="translate(178.8 566.35) scale(0.950 1)" font-size="6.9" text-anchor="end">50</text>
<line x1="181.9" y1="543.6" x2="185.1" y2="543.6" stroke="#000" stroke-width="0.9"/>
<text transform="translate(178.8 546.05) scale(0.950 1)" font-size="6.9" text-anchor="end">100</text>
<line x1="181.9" y1="523.3" x2="185.1" y2="523.3" stroke="#000" stroke-width="0.9"/>
<text transform="translate(178.8 525.75) scale(0.950 1)" font-size="6.9" text-anchor="end">150</text>
<line x1="185.1" y1="584.2" x2="185.1" y2="587.3" stroke="#000" stroke-width="0.95"/>
<text transform="translate(185.1 596.4) scale(0.960 1)" font-size="6.9" text-anchor="middle">0</text>
<line x1="194.3" y1="584.2" x2="194.3" y2="585.9" stroke="#000" stroke-width="0.7"/>
<line x1="199.69" y1="584.2" x2="199.69" y2="585.9" stroke="#000" stroke-width="0.7"/>
<line x1="203.5" y1="584.2" x2="203.5" y2="585.9" stroke="#000" stroke-width="0.7"/>
<line x1="206.47" y1="584.2" x2="206.47" y2="585.9" stroke="#000" stroke-width="0.7"/>
<line x1="208.89" y1="584.2" x2="208.89" y2="585.9" stroke="#000" stroke-width="0.7"/>
<line x1="210.93" y1="584.2" x2="210.93" y2="585.9" stroke="#000" stroke-width="0.7"/>
<line x1="212.71" y1="584.2" x2="212.71" y2="585.9" stroke="#000" stroke-width="0.7"/>
<line x1="214.27" y1="584.2" x2="214.27" y2="585.9" stroke="#000" stroke-width="0.7"/>
<line x1="215.67" y1="584.2" x2="215.67" y2="587.3" stroke="#000" stroke-width="0.95"/>
<text transform="translate(215.67 596.4) scale(0.960 1)" font-size="6.9" text-anchor="middle">10</text>
<line x1="224.87" y1="584.2" x2="224.87" y2="585.9" stroke="#000" stroke-width="0.7"/>
<line x1="230.26" y1="584.2" x2="230.26" y2="585.9" stroke="#000" stroke-width="0.7"/>
<line x1="234.07" y1="584.2" x2="234.07" y2="585.9" stroke="#000" stroke-width="0.7"/>
<line x1="237.04" y1="584.2" x2="237.04" y2="585.9" stroke="#000" stroke-width="0.7"/>
<line x1="239.46" y1="584.2" x2="239.46" y2="585.9" stroke="#000" stroke-width="0.7"/>
<line x1="241.5" y1="584.2" x2="241.5" y2="585.9" stroke="#000" stroke-width="0.7"/>
<line x1="243.28" y1="584.2" x2="243.28" y2="585.9" stroke="#000" stroke-width="0.7"/>
<line x1="244.84" y1="584.2" x2="244.84" y2="585.9" stroke="#000" stroke-width="0.7"/>
<line x1="246.24" y1="584.2" x2="246.24" y2="587.3" stroke="#000" stroke-width="0.95"/>
<text transform="translate(246.24 596.4) scale(0.960 1)" font-size="6.9" text-anchor="middle">100</text>
<line x1="255.44" y1="584.2" x2="255.44" y2="585.9" stroke="#000" stroke-width="0.7"/>
<line x1="260.83" y1="584.2" x2="260.83" y2="585.9" stroke="#000" stroke-width="0.7"/>
<line x1="264.64" y1="584.2" x2="264.64" y2="585.9" stroke="#000" stroke-width="0.7"/>
<line x1="267.61" y1="584.2" x2="267.61" y2="585.9" stroke="#000" stroke-width="0.7"/>
<line x1="270.03" y1="584.2" x2="270.03" y2="585.9" stroke="#000" stroke-width="0.7"/>
<line x1="272.07" y1="584.2" x2="272.07" y2="585.9" stroke="#000" stroke-width="0.7"/>
<line x1="273.85" y1="584.2" x2="273.85" y2="585.9" stroke="#000" stroke-width="0.7"/>
<line x1="275.41" y1="584.2" x2="275.41" y2="585.9" stroke="#000" stroke-width="0.7"/>
<line x1="276.81" y1="584.2" x2="276.81" y2="587.3" stroke="#000" stroke-width="0.95"/>
<text transform="translate(276.81 596.4) scale(0.960 1)" font-size="6.9" text-anchor="middle">1000</text>
<polyline points="185.1,540.96 215.67,543.6 246.24,559.31 276.81,572.83" fill="none" stroke="#6cb33f" stroke-width="1.2" stroke-linejoin="round"/>
<circle cx="185.1" cy="540.96" r="1.35" fill="#4f9a2c"/>
<circle cx="215.67" cy="543.6" r="1.35" fill="#4f9a2c"/>
<circle cx="246.24" cy="559.31" r="1.35" fill="#4f9a2c"/>
<circle cx="276.81" cy="572.83" r="1.35" fill="#4f9a2c"/>
<polyline points="185.1,541.16 215.67,545.22 246.24,559.31 276.81,573.24" fill="none" stroke="#ad1539" stroke-width="1.2" stroke-linejoin="round"/>
<circle cx="185.1" cy="541.16" r="1.35" fill="#960b2c"/>
<circle cx="215.67" cy="545.22" r="1.35" fill="#960b2c"/>
<circle cx="246.24" cy="559.31" r="1.35" fill="#960b2c"/>
<circle cx="276.81" cy="573.24" r="1.35" fill="#960b2c"/>
<polyline points="185.1,544.25 215.67,547.82 246.24,561.55 276.81,575.51" fill="none" stroke="#5a2a80" stroke-width="1.2" stroke-linejoin="round"/>
<circle cx="185.1" cy="544.25" r="1.35" fill="#3f1a66"/>
<circle cx="215.67" cy="547.82" r="1.35" fill="#3f1a66"/>
<circle cx="246.24" cy="561.55" r="1.35" fill="#3f1a66"/>
<circle cx="276.81" cy="575.51" r="1.35" fill="#3f1a66"/>
<polyline points="185.1,543.88 215.67,547.54 246.24,559.6 276.81,572.22" fill="none" stroke="#385a98" stroke-width="1.2" stroke-linejoin="round"/>
<circle cx="185.1" cy="543.88" r="1.35" fill="#1f3a78"/>
<circle cx="215.67" cy="547.54" r="1.35" fill="#1f3a78"/>
<circle cx="246.24" cy="559.6" r="1.35" fill="#1f3a78"/>
<circle cx="276.81" cy="572.22" r="1.35" fill="#1f3a78"/>
<text transform="translate(232.4 505) scale(0.933 1)" font-size="9" text-anchor="middle">Day 63 Stimulated</text>
<text transform="translate(231.7 515.2) scale(0.911 1)" font-size="9" text-anchor="middle">CI &gt; 1</text>
<text transform="translate(232.4 608.2) scale(0.793 1)" font-size="7.7" text-anchor="middle" class="ti">[venetoclax]<tspan dx="1.4"> (nM)</tspan></text>
<text transform="translate(160.8 552.4) rotate(-90) scale(0.805 1)" font-size="7.5" text-anchor="middle" class="ti">% viability (CTG)</text>
<line x1="246.6" y1="525.7" x2="253.6" y2="525.7" stroke="#385a98" stroke-width="1"/>
<circle cx="250.1" cy="525.7" r="1.35" fill="#1f3a78"/>
<text transform="translate(256.5 527.45) scale(0.945 1)" font-size="5.6" class="lg">Ibrutinib 0nM</text>
<line x1="246.6" y1="534.8" x2="253.6" y2="534.8" stroke="#ad1539" stroke-width="1"/>
<circle cx="250.1" cy="534.8" r="1.35" fill="#960b2c"/>
<text transform="translate(256.5 536.55) scale(0.947 1)" font-size="5.6" class="lg">Ibrutinib 10nM</text>
<line x1="246.6" y1="543.9" x2="253.6" y2="543.9" stroke="#6cb33f" stroke-width="1"/>
<circle cx="250.1" cy="543.9" r="1.35" fill="#4f9a2c"/>
<text transform="translate(256.5 545.65) scale(0.953 1)" font-size="5.6" class="lg">Ibrutinib 100nM</text>
<line x1="246.6" y1="553" x2="253.6" y2="553" stroke="#5a2a80" stroke-width="1"/>
<circle cx="250.1" cy="553" r="1.35" fill="#3f1a66"/>
<text transform="translate(256.5 554.75) scale(0.961 1)" font-size="5.6" class="lg">Ibrutinib 1000nM</text>
<text transform="translate(312.6 507.3)" font-size="11.8" font-weight="bold" fill="#000">E</text>
<line x1="342.9" y1="520.3" x2="342.9" y2="584.9" stroke="#000" stroke-width="1.1"/>
<line x1="342.4" y1="584.3" x2="437.6" y2="584.3" stroke="#000" stroke-width="1.1"/>
<line x1="339.7" y1="584.3" x2="342.9" y2="584.3" stroke="#000" stroke-width="0.9"/>
<text transform="translate(336.6 586.75) scale(0.950 1)" font-size="6.9" text-anchor="end">0</text>
<line x1="339.7" y1="564" x2="342.9" y2="564" stroke="#000" stroke-width="0.9"/>
<text transform="translate(336.6 566.45) scale(0.950 1)" font-size="6.9" text-anchor="end">50</text>
<line x1="339.7" y1="543.7" x2="342.9" y2="543.7" stroke="#000" stroke-width="0.9"/>
<text transform="translate(336.6 546.15) scale(0.950 1)" font-size="6.9" text-anchor="end">100</text>
<line x1="339.7" y1="523.4" x2="342.9" y2="523.4" stroke="#000" stroke-width="0.9"/>
<text transform="translate(336.6 525.85) scale(0.950 1)" font-size="6.9" text-anchor="end">150</text>
<line x1="342.9" y1="584.3" x2="342.9" y2="587.4" stroke="#000" stroke-width="0.95"/>
<text transform="translate(342.9 596.5) scale(0.960 1)" font-size="6.9" text-anchor="middle">0</text>
<line x1="349.84" y1="584.3" x2="349.84" y2="586" stroke="#000" stroke-width="0.7"/>
<line x1="353.9" y1="584.3" x2="353.9" y2="586" stroke="#000" stroke-width="0.7"/>
<line x1="356.78" y1="584.3" x2="356.78" y2="586" stroke="#000" stroke-width="0.7"/>
<line x1="359.01" y1="584.3" x2="359.01" y2="586" stroke="#000" stroke-width="0.7"/>
<line x1="360.84" y1="584.3" x2="360.84" y2="586" stroke="#000" stroke-width="0.7"/>
<line x1="362.38" y1="584.3" x2="362.38" y2="586" stroke="#000" stroke-width="0.7"/>
<line x1="363.72" y1="584.3" x2="363.72" y2="586" stroke="#000" stroke-width="0.7"/>
<line x1="364.9" y1="584.3" x2="364.9" y2="586" stroke="#000" stroke-width="0.7"/>
<line x1="365.95" y1="584.3" x2="365.95" y2="587.4" stroke="#000" stroke-width="0.95"/>
<text transform="translate(365.95 596.5) scale(0.960 1)" font-size="6.9" text-anchor="middle">1</text>
<line x1="372.89" y1="584.3" x2="372.89" y2="586" stroke="#000" stroke-width="0.7"/>
<line x1="376.95" y1="584.3" x2="376.95" y2="586" stroke="#000" stroke-width="0.7"/>
<line x1="379.83" y1="584.3" x2="379.83" y2="586" stroke="#000" stroke-width="0.7"/>
<line x1="382.06" y1="584.3" x2="382.06" y2="586" stroke="#000" stroke-width="0.7"/>
<line x1="383.89" y1="584.3" x2="383.89" y2="586" stroke="#000" stroke-width="0.7"/>
<line x1="385.43" y1="584.3" x2="385.43" y2="586" stroke="#000" stroke-width="0.7"/>
<line x1="386.77" y1="584.3" x2="386.77" y2="586" stroke="#000" stroke-width="0.7"/>
<line x1="387.95" y1="584.3" x2="387.95" y2="586" stroke="#000" stroke-width="0.7"/>
<line x1="389" y1="584.3" x2="389" y2="587.4" stroke="#000" stroke-width="0.95"/>
<text transform="translate(389 596.5) scale(0.960 1)" font-size="6.9" text-anchor="middle">10</text>
<line x1="395.94" y1="584.3" x2="395.94" y2="586" stroke="#000" stroke-width="0.7"/>
<line x1="400" y1="584.3" x2="400" y2="586" stroke="#000" stroke-width="0.7"/>
<line x1="402.88" y1="584.3" x2="402.88" y2="586" stroke="#000" stroke-width="0.7"/>
<line x1="405.11" y1="584.3" x2="405.11" y2="586" stroke="#000" stroke-width="0.7"/>
<line x1="406.94" y1="584.3" x2="406.94" y2="586" stroke="#000" stroke-width="0.7"/>
<line x1="408.48" y1="584.3" x2="408.48" y2="586" stroke="#000" stroke-width="0.7"/>
<line x1="409.82" y1="584.3" x2="409.82" y2="586" stroke="#000" stroke-width="0.7"/>
<line x1="411" y1="584.3" x2="411" y2="586" stroke="#000" stroke-width="0.7"/>
<line x1="412.05" y1="584.3" x2="412.05" y2="587.4" stroke="#000" stroke-width="0.95"/>
<text transform="translate(412.05 596.5) scale(0.960 1)" font-size="6.9" text-anchor="middle">100</text>
<line x1="418.99" y1="584.3" x2="418.99" y2="586" stroke="#000" stroke-width="0.7"/>
<line x1="423.05" y1="584.3" x2="423.05" y2="586" stroke="#000" stroke-width="0.7"/>
<line x1="425.93" y1="584.3" x2="425.93" y2="586" stroke="#000" stroke-width="0.7"/>
<line x1="428.16" y1="584.3" x2="428.16" y2="586" stroke="#000" stroke-width="0.7"/>
<line x1="429.99" y1="584.3" x2="429.99" y2="586" stroke="#000" stroke-width="0.7"/>
<line x1="431.53" y1="584.3" x2="431.53" y2="586" stroke="#000" stroke-width="0.7"/>
<line x1="432.87" y1="584.3" x2="432.87" y2="586" stroke="#000" stroke-width="0.7"/>
<line x1="434.05" y1="584.3" x2="434.05" y2="586" stroke="#000" stroke-width="0.7"/>
<line x1="435.1" y1="584.3" x2="435.1" y2="587.4" stroke="#000" stroke-width="0.95"/>
<text transform="translate(435.1 596.5) scale(0.960 1)" font-size="6.9" text-anchor="middle">1000</text>
<polyline points="342.9,543.7 365.95,584.3 389,584.3 412.05,584.3 435.1,584.3" fill="none" stroke="#6cb33f" stroke-width="1.2" stroke-linejoin="round"/>
<circle cx="342.9" cy="543.7" r="1.35" fill="#4f9a2c"/>
<circle cx="365.95" cy="584.3" r="1.35" fill="#4f9a2c"/>
<circle cx="389" cy="584.3" r="1.35" fill="#4f9a2c"/>
<circle cx="412.05" cy="584.3" r="1.35" fill="#4f9a2c"/>
<circle cx="435.1" cy="584.3" r="1.35" fill="#4f9a2c"/>
<polyline points="342.9,543.7 365.95,544.92 389,545.12 412.05,546.34 435.1,547.56" fill="none" stroke="#ad1539" stroke-width="1.2" stroke-linejoin="round"/>
<rect x="341.5" y="542.3" width="2.8" height="2.8" fill="#960b2c"/>
<rect x="364.55" y="543.52" width="2.8" height="2.8" fill="#960b2c"/>
<rect x="387.6" y="543.72" width="2.8" height="2.8" fill="#960b2c"/>
<rect x="410.65" y="544.94" width="2.8" height="2.8" fill="#960b2c"/>
<rect x="433.7" y="546.16" width="2.8" height="2.8" fill="#960b2c"/>
<line x1="365.95" y1="542.6" x2="365.95" y2="547.23" stroke="#ad1539" stroke-width="0.8"/>
<line x1="364.75" y1="542.6" x2="367.15" y2="542.6" stroke="#ad1539" stroke-width="0.8"/>
<line x1="364.75" y1="547.23" x2="367.15" y2="547.23" stroke="#ad1539" stroke-width="0.8"/>
<line x1="389" y1="542.97" x2="389" y2="547.27" stroke="#ad1539" stroke-width="0.8"/>
<line x1="387.8" y1="542.97" x2="390.2" y2="542.97" stroke="#ad1539" stroke-width="0.8"/>
<line x1="387.8" y1="547.27" x2="390.2" y2="547.27" stroke="#ad1539" stroke-width="0.8"/>
<line x1="412.05" y1="544.27" x2="412.05" y2="548.41" stroke="#ad1539" stroke-width="0.8"/>
<line x1="410.85" y1="544.27" x2="413.25" y2="544.27" stroke="#ad1539" stroke-width="0.8"/>
<line x1="410.85" y1="548.41" x2="413.25" y2="548.41" stroke="#ad1539" stroke-width="0.8"/>
<line x1="435.1" y1="544.59" x2="435.1" y2="550.52" stroke="#ad1539" stroke-width="0.8"/>
<line x1="433.9" y1="544.59" x2="436.3" y2="544.59" stroke="#ad1539" stroke-width="0.8"/>
<line x1="433.9" y1="550.52" x2="436.3" y2="550.52" stroke="#ad1539" stroke-width="0.8"/>
<polyline points="342.9,543.7 365.95,543.5 389,543.82 412.05,542.69 435.1,542.77" fill="none" stroke="#385a98" stroke-width="1.2" stroke-linejoin="round"/>
<path d="M342.9,542.2L344.4,543.7L342.9,545.2L341.4,543.7Z" fill="#1f3a78" stroke="none" stroke-width="1"/>
<path d="M365.95,542L367.45,543.5L365.95,545L364.45,543.5Z" fill="#1f3a78" stroke="none" stroke-width="1"/>
<path d="M389,542.32L390.5,543.82L389,545.32L387.5,543.82Z" fill="#1f3a78" stroke="none" stroke-width="1"/>
<path d="M412.05,541.19L413.55,542.69L412.05,544.19L410.55,542.69Z" fill="#1f3a78" stroke="none" stroke-width="1"/>
<path d="M435.1,541.27L436.6,542.77L435.1,544.27L433.6,542.77Z" fill="#1f3a78" stroke="none" stroke-width="1"/>
<line x1="365.95" y1="542.89" x2="365.95" y2="544.11" stroke="#385a98" stroke-width="0.8"/>
<line x1="364.75" y1="542.89" x2="367.15" y2="542.89" stroke="#385a98" stroke-width="0.8"/>
<line x1="364.75" y1="544.11" x2="367.15" y2="544.11" stroke="#385a98" stroke-width="0.8"/>
<line x1="389" y1="540.98" x2="389" y2="546.66" stroke="#385a98" stroke-width="0.8"/>
<line x1="387.8" y1="540.98" x2="390.2" y2="540.98" stroke="#385a98" stroke-width="0.8"/>
<line x1="387.8" y1="546.66" x2="390.2" y2="546.66" stroke="#385a98" stroke-width="0.8"/>
<line x1="412.05" y1="541.47" x2="412.05" y2="543.9" stroke="#385a98" stroke-width="0.8"/>
<line x1="410.85" y1="541.47" x2="413.25" y2="541.47" stroke="#385a98" stroke-width="0.8"/>
<line x1="410.85" y1="543.9" x2="413.25" y2="543.9" stroke="#385a98" stroke-width="0.8"/>
<line x1="435.1" y1="542.16" x2="435.1" y2="543.38" stroke="#385a98" stroke-width="0.8"/>
<line x1="433.9" y1="542.16" x2="436.3" y2="542.16" stroke="#385a98" stroke-width="0.8"/>
<line x1="433.9" y1="543.38" x2="436.3" y2="543.38" stroke="#385a98" stroke-width="0.8"/>
<text transform="translate(390.2 505) scale(0.936 1)" font-size="9" text-anchor="middle">SUP-T11</text>
<text transform="translate(390.9 608.2) scale(0.821 1)" font-size="7.7" text-anchor="middle" class="ti">[drug]<tspan dx="1.4"> (nM)</tspan></text>
<text transform="translate(318.8 552.4) rotate(-90) scale(0.805 1)" font-size="7.5" text-anchor="middle" class="ti">% viability (CTG)</text>
<line x1="453.9" y1="530.4" x2="460.9" y2="530.4" stroke="#385a98" stroke-width="1"/>
<path d="M457.4,528.9L458.9,530.4L457.4,531.9L455.9,530.4Z" fill="#1f3a78" stroke="none" stroke-width="1"/>
<text transform="translate(464.2 532.3) scale(0.949 1)" font-size="5.6" class="lg">venetoclax (BCL2i)</text>
<line x1="453.9" y1="539.5" x2="460.9" y2="539.5" stroke="#ad1539" stroke-width="1"/>
<rect x="456" y="538.1" width="2.8" height="2.8" fill="#960b2c"/>
<text transform="translate(464.2 541.4) scale(0.982 1)" font-size="5.6" class="lg">A1331852 (BCLxLi)</text>
<line x1="453.9" y1="548.6" x2="460.9" y2="548.6" stroke="#6cb33f" stroke-width="1"/>
<circle cx="457.4" cy="548.6" r="1.35" fill="#4f9a2c"/>
<text transform="translate(464.2 550.5) scale(0.996 1)" font-size="5.6" class="lg">S63845 (MCL1i)</text>
<rect x="0.5" y="0.5" width="519" height="617" fill="none" stroke="#000" stroke-width="1"/>
</svg>
</body></html>
